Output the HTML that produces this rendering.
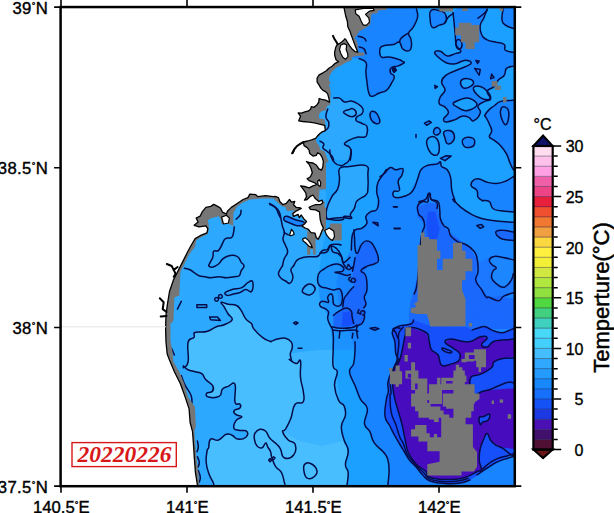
<!DOCTYPE html>
<html><head><meta charset="utf-8"><title>SST 20220226</title>
<style>html,body{margin:0;padding:0;background:#fff;overflow:hidden}svg{display:block}</style>
</head><body>
<svg width="614" height="513" viewBox="0 0 614 513">
<rect width="614" height="513" fill="#fff"/>
<defs><clipPath id="fr"><rect x="60.6" y="7.05" width="454.2" height="479.15"/></clipPath></defs>
<g clip-path="url(#fr)">
<rect x="60" y="6" width="457" height="482" fill="#1ca0ff"/>
<path d="M150.0 190.0L326.0 190.0L326.0 230.0L322.0 250.0L318.0 280.0L320.0 300.0L328.0 316.0L332.0 338.0L333.0 350.0L340.0 400.0L346.0 486.0L346.0 490.0L150.0 490.0Z" fill="#2ca8ff"/>
<path d="M339.5 168.6L349.3 166.6L365.9 165.6L367.9 175.4L367.9 189.1L365.9 194.9L357.1 200.8L354.2 208.6L350.3 214.5L351.3 218.4L342.5 217.4L331.7 218.4L326.8 218.4L326.8 208.6L331.7 196.9L337.6 189.1L339.5 179.3Z" fill="#2ca8ff"/>
<path d="M320.0 97.1L333.7 98.1L339.5 98.1L344.4 102.0L351.3 101.0L358.1 104.0L363.0 108.9L362.0 113.7L357.1 116.7L356.2 120.6L362.0 123.5L366.9 126.4L366.9 134.3L364.0 137.2L357.1 137.2L349.3 140.1L344.4 144.0L349.3 147.0L351.3 151.9L350.3 160.1L320.0 160.1Z" fill="#2ca8ff"/>
<path d="M183.2 367.7L188.1 361.9L188.1 342.3L194.0 337.4L194.9 332.5L206.7 331.6L216.4 326.7L224.3 324.7L232.1 319.8L228.2 314.0L224.3 307.1L221.3 302.2L228.2 304.2L236.0 305.2L240.9 310.1L245.8 318.9L251.6 323.7L253.6 328.6L262.4 337.4L270.0 341.3L271.7 341.1L277.6 339.1L285.4 338.2L291.3 342.1L292.2 347.9L291.3 353.8L300.0 352.0L320.0 350.0L333.2 350.0L333.2 366.4L337.3 371.8L334.5 385.5L338.6 400.4L344.1 405.9L345.4 415.4L341.4 426.4L344.1 440.0L348.2 450.9L345.4 464.5L348.2 472.7L346.8 486.4L213.0 489.9L213.0 482.1L209.1 474.3L206.2 462.5L207.1 450.8L210.6 439.1L218.4 440.1L226.2 434.3L232.1 435.2L237.9 439.1L245.8 437.2L246.7 431.3L239.9 430.4L234.0 428.4L236.0 420.6L241.9 416.7L236.0 414.7L234.0 410.8L239.9 407.9L239.9 404.0L235.0 402.0L235.0 384.4L228.2 386.4L222.3 389.3L219.4 396.2L208.6 397.1L206.7 393.2L212.5 391.3L212.5 385.4L205.7 379.5L201.8 373.7L194.9 371.7L188.1 369.8L183.2 365.9Z" fill="#3cb4ff"/>
<path d="M183.2 367.7L188.1 361.9L188.1 342.3L194.0 337.4L194.9 332.5L206.7 331.6L216.4 326.7L224.3 324.7L232.1 319.8L228.2 314.0L224.3 307.1L221.3 302.2L228.2 304.2L236.0 305.2L240.9 310.1L245.8 318.9L251.6 323.7L253.6 328.6L262.4 337.4L270.0 341.3L271.7 341.1L277.6 339.1L285.4 338.2L291.3 342.1L292.2 347.9L290.3 353.8L291.3 360.1L289.5 359.5L296.4 363.6L300.5 360.9L300.5 377.3L303.2 390.9L303.2 401.8L295.0 404.5L290.9 418.2L285.5 429.1L282.7 431.8L300.0 441.0L322.0 446.0L343.0 441.0L348.2 450.9L345.4 464.5L348.2 472.7L346.8 486.4L213.0 489.9L213.0 482.1L209.1 474.3L206.2 462.5L207.1 450.8L210.6 439.1L218.4 440.1L226.2 434.3L232.1 435.2L237.9 439.1L245.8 437.2L246.7 431.3L239.9 430.4L234.0 428.4L236.0 420.6L241.9 416.7L236.0 414.7L234.0 410.8L239.9 407.9L239.9 404.0L235.0 402.0L235.0 384.4L228.2 386.4L222.3 389.3L219.4 396.2L208.6 397.1L206.7 393.2L212.5 391.3L212.5 385.4L205.7 379.5L201.8 373.7L194.9 371.7L188.1 369.8L183.2 365.9Z" fill="#48beff"/>
<path d="M386.0 5.0L416.5 5.0L417.6 17.0L413.0 27.0L408.5 33.0L410.8 39.0L411.5 45.6L409.0 50.6L402.8 49.0L399.4 42.2L393.7 44.5L384.6 45.6L380.0 47.0L379.7 53.0L381.6 57.7L389.0 57.5L398.0 59.3L402.8 61.6L401.7 65.0L396.0 66.0L391.4 70.7L393.7 77.5L390.3 86.6L384.6 91.2L378.6 93.5L372.8 96.2L368.9 93.2L366.9 81.5L366.0 71.7L366.0 62.5L359.0 58.6L350.0 58.0L350.0 5.0Z" fill="#1884ff"/>
<path d="M431.3 10.3L430.2 19.4L432.4 27.4L439.3 25.1L445.0 22.8L446.1 16.0L441.6 11.4Z" fill="#1884ff"/>
<path d="M453.0 12.5L458.7 6.8L487.2 6.8L483.7 18.2L480.3 25.1L481.5 34.2L487.2 39.9L496.3 42.2L504.3 44.5L505.4 50.2L513.4 52.4L516.8 52.4L516.8 66.1L513.4 66.1L506.5 68.4L504.3 75.2L498.6 79.8L494.0 86.6L487.2 91.2L490.6 99.1L484.9 101.4L478.0 106.0L480.3 112.8L473.5 120.8L468.9 117.4L462.1 116.2L455.2 119.6L446.1 121.9L443.8 118.5L448.4 112.8L445.0 107.1L439.3 103.7L440.4 96.8L445.0 90.0L441.6 82.1L446.1 75.2L455.2 70.7L466.6 66.1L471.2 62.7L464.4 60.4L455.2 63.8L446.1 62.7L438.1 57.0L434.7 52.4L440.4 51.3L447.3 55.9L455.2 53.6L460.9 51.3L456.4 45.6L455.2 34.2L454.1 22.8Z" fill="#1884ff"/>
<path d="M460.9 80.9L467.8 78.7L473.5 82.1L470.1 86.6L463.2 87.8Z" fill="#1ca0ff"/>
<path d="M473.5 87.8L480.3 86.6L487.2 91.2L490.6 98.0L483.7 99.2L476.9 94.6Z" fill="#1ca0ff"/>
<path d="M453.0 103.7L458.7 100.3L466.6 98.0L473.5 100.3L476.9 104.8L471.2 109.4L464.4 110.5L457.5 107.1Z" fill="#1ca0ff"/>
<path d="M503.1 6.8L502.0 19.4L505.4 25.1L513.4 28.5L516.8 28.5L516.8 6.8Z" fill="#1884ff"/>
<path d="M484.9 115.1L489.4 109.4L494.0 106.0L500.8 101.4L513.4 100.3L516.8 100.3L516.8 169.8L513.4 169.8L510.0 163.0L506.5 153.8L500.8 145.9L494.0 140.2L489.4 136.7L491.7 131.0L489.4 124.2L486.0 117.4Z" fill="#1884ff"/>
<path d="M443.8 132.2L449.5 130.6L454.1 134.5L453.0 141.3L447.3 143.6L445.0 137.9Z" fill="#1884ff"/>
<path d="M463.2 139.0L472.3 137.9L474.6 143.6L471.2 147.0L464.4 146.5Z" fill="#1884ff"/>
<path d="M433.6 131.0L437.0 127.6L440.4 131.0L438.1 134.5L434.7 134.5Z" fill="#1884ff"/>
<path d="M424.5 123.1L429.0 120.8L431.3 122.4L426.7 125.3Z" fill="#1884ff"/>
<path d="M440.4 158.4L446.1 155.7L451.1 156.1L445.0 160.7Z" fill="#1884ff"/>
<path d="M370.4 112.8L374.7 111.8L378.6 116.7L379.6 122.5L375.7 123.5L371.2 119.6Z" fill="#1884ff"/>
<path d="M352.2 236.0L355.2 230.1L362.0 228.2L366.9 223.3L365.9 216.4L370.8 211.6L376.7 209.6L378.6 200.8L376.7 192.0L377.7 183.2L382.5 175.4L386.4 169.5L391.3 167.6L395.2 169.5L400.1 167.6L404.0 169.5L401.1 176.4L398.2 183.2L399.1 189.1L393.3 191.0L394.3 196.9L402.1 196.9L409.9 194.9L411.9 188.1L415.8 181.3L419.7 173.5L423.6 167.6L431.4 163.7L440.0 160.7L441.6 166.4L447.3 169.8L450.7 177.8L451.8 190.3L455.2 201.7L453.0 199.4L460.9 207.4L471.2 214.2L482.6 218.8L496.3 221.0L513.4 222.2L516.8 222.2L520.0 490.0L388.0 490.0L387.7 483.6L389.1 470.0L387.7 459.1L383.6 452.3L374.1 442.7L370.0 431.8L364.5 423.6L367.3 408.6L360.4 399.1L355.0 385.5L349.5 371.8L353.6 363.6L355.0 350.0L350.0 335.0L344.0 320.0L338.0 300.0L336.0 282.0L340.0 268.0L351.0 250.0Z" fill="#1884ff"/>
<path d="M516.8 175.5L513.4 176.6L505.4 181.2L496.3 183.5L487.2 182.3L479.2 178.9L473.5 180.1L471.2 185.8L476.9 190.3L478.0 197.2L482.6 200.6L482.6 200.5L489.4 201.7L492.9 208.5L500.8 210.8L513.4 211.9L516.8 211.9Z" fill="#1884ff"/>
<path d="M418.6 205.9L428.0 202.9L436.7 203.5L439.7 217.6L445.5 229.3L457.3 238.1L469.0 246.9L476.3 258.6L479.3 276.2L483.7 290.9L492.4 299.7L504.2 301.1L518.8 296.7L518.8 329.0L410.4 329.0L408.9 317.3L410.4 302.6L414.8 288.0L417.7 273.3L418.6 252.8L423.6 235.2L425.0 223.5L417.7 217.6L416.8 210.3Z" fill="#1a68fc"/>
<path d="M428.0 211.7L435.3 211.7L439.7 229.3L436.7 241.0L428.0 238.1L426.5 223.5Z" fill="#1650fa"/>
<path d="M328.0 265.0L340.0 261.0L351.0 256.0L340.0 268.0L336.0 282.0L338.0 300.0L344.0 320.0L350.0 335.0L355.0 350.0L333.0 350.0L332.0 338.0L328.0 316.0L320.0 300.0L318.0 280.0L322.0 268.0Z" fill="#1c92ff"/>
<path d="M283.7 218.2L286.9 216.3L294.8 219.5L302.6 221.5L304.5 223.5L301.3 225.4L296.1 225.4L289.5 222.8L285.0 220.8Z" fill="#1884ff"/>
<path d="M355.0 257.8L357.3 253.0L362.1 243.8L369.1 241.5L374.9 248.5L378.5 259.9L374.9 263.6L367.9 265.9L363.4 271.8L365.1 274.5L366.8 281.1L366.8 290.8L364.3 297.3L366.0 303.9L363.8 307.9L364.3 318.5L361.9 323.4L357.0 326.7L348.9 327.5L340.7 327.5L333.4 326.7L333.4 315.3L339.1 311.2L342.7 307.1L343.2 303.9L344.0 299.0L347.2 294.1L350.5 290.0L353.7 286.8L352.4 276.2L353.4 267.1Z" fill="#1a68fc"/>
<path d="M342.7 312.3L351.3 311.5L353.4 323.4L348.9 326.3L341.9 326.3Z" fill="#1650fa"/>
<path d="M496.3 231.3L503.1 230.2L513.4 232.0L516.8 232.0L516.8 240.4L513.4 240.4L503.1 239.3L497.4 235.9Z" fill="#1a68fc"/>
<path d="M475.8 280.0L481.5 289.4L489.1 297.3L498.7 300.7L504.2 295.9L518.0 292.0L518.0 262.0L500.0 258.0L489.0 257.0L480.0 262.0L476.0 268.0Z" fill="#1c78ff"/>
<path d="M489.4 259.8L494.0 256.4L503.1 257.5L513.4 259.8L516.8 259.8L516.8 273.5L513.4 273.5L511.1 280.3L504.3 287.2L496.3 283.7L491.7 278.0L492.9 271.2L496.3 267.8L491.7 264.4Z" fill="#1c86ff"/>
<path d="M413.5 320.0L411.9 323.3L406.2 324.9L398.0 326.5L392.3 332.2L394.8 341.2L395.6 352.6L397.2 359.1L394.0 367.2L388.3 380.3L388.3 391.7L386.6 398.2L385.0 416.2L389.9 426.0L394.8 435.7L400.5 445.5L404.5 452.0L409.4 460.1L415.9 466.7L422.5 474.8L430.0 481.0L445.0 483.5L460.0 483.0L470.0 480.0L481.0 473.0L490.0 467.0L500.0 461.0L518.0 452.0L518.0 327.0L508.3 330.8L501.4 332.8L491.9 330.1L485.1 326.7L478.2 328.0L472.1 330.1L466.0 327.0L430.0 326.0Z" fill="#1650fa"/>
<path d="M470.0 300.0L500.0 296.0L518.0 300.0L518.0 318.0L478.0 320.0Z" fill="#1a68fc"/>
<path d="M408.5 327.6L425.6 332.2L429.0 340.2L431.3 349.3L438.1 355.0L441.6 365.2L450.7 364.1L458.7 360.7L459.8 353.8L453.0 348.1L445.0 342.4L450.7 339.0L462.1 341.3L471.2 341.3L480.3 336.7L487.2 337.9L481.5 344.7L487.2 347.0L494.0 341.3L507.7 339.7L518.0 341.3L518.0 356.1L503.1 358.4L494.0 361.8L491.7 367.5L480.3 374.4L471.2 377.1L470.0 386.0L473.5 394.9L487.2 390.3L518.0 388.0L518.0 449.5L500.8 447.3L491.7 441.6L487.2 433.6L483.7 439.3L480.3 448.4L479.2 459.8L481.5 470.1L478.0 471.2L466.6 476.9L455.2 479.2L439.3 479.2L429.0 476.9L425.6 471.2L416.5 464.4L408.5 453.0L405.1 439.3L401.7 423.3L397.1 407.4L393.7 393.7L392.5 380.0L393.7 369.8L399.4 360.7L402.8 347.0L405.1 335.6Z" fill="#460cbe"/>
<path d="M479.2 417.6L483.7 416.5L489.4 414.2L488.3 419.9L482.6 422.2L480.3 424.5Z" fill="#1650fa"/>
<path d="M269.4 203.5C270.8 204.4 273.2 205.1 275.3 207.4C277.4 209.6 277.1 210.9 278.2 213.2C279.3 215.5 279.6 216.2 280.0 217.1" fill="none" stroke="#050c48" stroke-width="1.5" stroke-linejoin="round" stroke-linecap="round"/>
<path d="M241.1 210.3C240.9 211.4 241.3 213.1 240.1 215.2C239.0 217.2 237.1 218.2 236.2 219.1" fill="none" stroke="#050c48" stroke-width="1.5" stroke-linejoin="round" stroke-linecap="round"/>
<path d="M234.3 226.9C234.0 228.5 234.0 231.2 233.3 233.7C232.6 236.3 233.2 236.5 231.3 237.7C229.5 238.8 227.5 237.3 225.5 238.6C223.4 240.0 224.1 240.8 222.5 243.5C220.9 246.2 220.7 248.5 218.6 250.4C216.6 252.2 215.1 249.7 213.7 251.3C212.4 252.9 213.7 254.5 212.8 257.2C211.9 259.9 210.7 261.0 209.8 263.1C208.9 265.1 208.2 265.1 208.9 266.0C209.5 266.9 210.5 267.4 212.8 267.0C215.0 266.5 216.3 265.9 218.6 264.0C220.9 262.2 220.5 261.0 222.5 259.1C224.6 257.3 224.9 257.1 227.4 256.2C229.9 255.3 230.8 255.0 233.3 255.2C235.8 255.5 236.3 255.6 238.2 257.2C240.0 258.8 239.7 260.0 241.1 262.1C242.5 264.1 244.0 263.9 244.0 266.0C244.0 268.0 242.2 268.6 241.1 270.9C240.0 273.2 240.7 274.4 239.1 275.8C237.6 277.1 237.2 276.3 234.3 276.7C231.3 277.2 230.1 277.7 226.4 277.7C222.8 277.7 222.3 276.7 218.6 276.7C215.0 276.7 214.0 277.7 210.8 277.7C207.6 277.7 207.7 277.2 204.9 276.7C202.2 276.3 201.8 276.9 199.1 275.8C196.3 274.6 195.5 273.3 193.2 271.9C190.9 270.4 191.4 270.3 189.3 269.5C187.3 268.7 185.6 268.6 184.4 268.3" fill="none" stroke="#050c48" stroke-width="1.5" stroke-linejoin="round" stroke-linecap="round"/>
<path d="M183.2 367.7C184.4 366.3 187.0 367.8 188.1 361.9C189.2 355.9 186.7 348.0 188.1 342.3C189.5 336.6 192.4 339.7 194.0 337.4C195.6 335.1 192.0 333.9 194.9 332.5C197.9 331.2 201.7 332.9 206.7 331.6C211.7 330.2 212.3 328.3 216.4 326.7C220.5 325.1 220.6 326.3 224.3 324.7C227.9 323.1 231.2 322.3 232.1 319.8C233.0 317.3 230.0 316.9 228.2 314.0C226.3 311.0 225.9 309.9 224.3 307.1C222.7 304.4 220.4 302.9 221.3 302.2C222.2 301.6 224.8 303.5 228.2 304.2C231.6 304.9 233.0 303.8 236.0 305.2C239.0 306.5 238.6 306.9 240.9 310.1C243.2 313.3 243.3 315.7 245.8 318.9C248.3 322.0 249.8 321.5 251.6 323.7C253.4 326.0 251.1 325.4 253.6 328.6C256.1 331.8 258.5 334.5 262.4 337.4C266.2 340.4 267.8 340.5 270.0 341.3C272.2 342.2 270.0 341.6 271.7 341.1C273.5 340.6 274.4 339.8 277.6 339.1C280.8 338.5 282.2 337.5 285.4 338.2C288.6 338.9 289.7 339.8 291.3 342.1C292.9 344.4 292.5 345.2 292.2 347.9C292.0 350.7 290.5 351.0 290.3 353.8C290.1 356.6 291.4 358.7 291.3 360.1C291.1 361.4 288.4 358.7 289.5 359.5C290.7 360.4 293.8 363.3 296.4 363.6C298.9 364.0 299.5 357.7 300.5 360.9C301.4 364.1 299.8 370.3 300.5 377.3C301.1 384.3 302.5 385.2 303.2 390.9C303.8 396.6 305.1 398.6 303.2 401.8C301.3 405.0 297.9 400.7 295.0 404.5C292.1 408.4 293.1 412.4 290.9 418.2C288.7 423.9 287.4 425.9 285.5 429.1C283.5 432.3 282.1 429.3 282.7 431.8C283.4 434.4 285.3 437.1 288.2 440.0C291.0 442.9 293.7 440.6 295.0 444.1C296.3 447.6 296.2 451.8 293.6 455.0C291.1 458.2 287.2 459.1 284.1 457.7C281.0 456.3 282.2 452.1 280.4 448.9C278.6 445.6 279.0 446.5 276.5 444.0C274.0 441.5 272.2 441.1 269.7 438.1C267.2 435.1 268.0 433.3 265.8 431.3C263.5 429.2 262.4 428.9 259.9 429.3C257.4 429.8 256.3 430.9 255.0 433.2C253.7 435.5 254.0 436.1 254.4 439.1C254.9 442.0 255.2 443.9 257.0 445.9C258.7 448.0 259.8 448.6 261.9 447.9C263.9 447.2 264.4 443.2 265.8 443.0C267.1 442.8 266.6 444.9 267.7 446.9C268.9 449.0 269.7 449.5 270.6 451.8C271.6 454.1 270.5 453.3 271.6 456.7C272.8 460.1 273.3 462.8 275.5 466.4C277.8 470.1 279.3 468.7 281.4 472.3C283.4 476.0 283.4 478.9 284.3 482.1C285.2 485.3 285.1 485.1 285.3 486.0" fill="none" stroke="#050c48" stroke-width="1.5" stroke-linejoin="round" stroke-linecap="round"/>
<path d="M196.9 304.8L206.7 304.8L206.7 307.5L196.9 307.5Z" fill="none" stroke="#050c48" stroke-width="1.5" stroke-linejoin="round" stroke-linecap="round"/>
<path d="M209.6 316.9L217.4 316.9L220.4 320.4L210.6 319.8Z" fill="none" stroke="#050c48" stroke-width="1.5" stroke-linejoin="round" stroke-linecap="round"/>
<path d="M214.7 299.3C214.7 298.7 214.9 298.4 215.3 297.9C215.7 297.5 215.9 297.4 216.4 297.4C217.0 297.4 217.4 297.5 217.8 297.9C218.3 298.4 218.4 298.7 218.4 299.3C218.4 300.0 218.3 300.2 217.8 300.7C217.4 301.1 217.0 301.3 216.4 301.3C215.9 301.3 215.7 301.1 215.3 300.7C214.9 300.2 214.7 300.0 214.7 299.3Z" fill="none" stroke="#050c48" stroke-width="1.5" stroke-linejoin="round" stroke-linecap="round"/>
<path d="M218.6 296.4C218.6 295.7 218.8 295.5 219.2 295.0C219.6 294.6 219.8 294.4 220.4 294.4C220.9 294.4 221.3 294.6 221.7 295.0C222.2 295.5 222.3 295.7 222.3 296.4C222.3 297.0 222.2 297.3 221.7 297.8C221.3 298.2 220.9 298.3 220.4 298.3C219.8 298.3 219.6 298.2 219.2 297.8C218.8 297.3 218.6 297.0 218.6 296.4Z" fill="none" stroke="#050c48" stroke-width="1.5" stroke-linejoin="round" stroke-linecap="round"/>
<path d="M225.2 292.5C226.4 291.1 228.2 290.7 232.1 289.5C236.0 288.4 238.2 289.2 241.9 287.6C245.5 286.0 245.2 284.1 247.7 282.7C250.2 281.3 251.7 279.7 252.6 281.7C253.5 283.8 253.2 289.7 251.6 291.5C250.0 293.3 248.5 289.3 245.8 289.5C243.0 289.8 243.1 291.3 239.9 292.5C236.7 293.6 235.0 293.7 232.1 294.4C229.1 295.1 228.8 295.9 227.2 295.4C225.6 294.9 224.1 293.8 225.2 292.5Z" fill="none" stroke="#050c48" stroke-width="1.5" stroke-linejoin="round" stroke-linecap="round"/>
<path d="M181.3 301.3L177.4 309.1" fill="none" stroke="#050c48" stroke-width="1.5" stroke-linejoin="round" stroke-linecap="round"/>
<path d="M171.5 348.2L174.4 355.0" fill="none" stroke="#050c48" stroke-width="1.5" stroke-linejoin="round" stroke-linecap="round"/>
<path d="M183.2 365.9C184.4 366.8 185.4 368.4 188.1 369.8C190.8 371.1 191.8 370.8 194.9 371.7C198.1 372.6 199.3 371.9 201.8 373.7C204.3 375.5 203.2 376.8 205.7 379.5C208.2 382.3 210.9 382.7 212.5 385.4C214.1 388.1 213.9 389.4 212.5 391.3C211.2 393.1 207.6 391.9 206.7 393.2C205.8 394.6 205.7 396.4 208.6 397.1C211.6 397.8 216.2 398.0 219.4 396.2C222.6 394.3 220.3 391.6 222.3 389.3C224.4 387.0 225.2 387.5 228.2 386.4C231.1 385.2 233.4 380.8 235.0 384.4C236.6 388.1 233.9 397.5 235.0 402.0C236.2 406.6 238.8 402.6 239.9 404.0C241.0 405.3 241.3 406.3 239.9 407.9C238.5 409.5 234.9 409.2 234.0 410.8C233.1 412.4 234.2 413.4 236.0 414.7C237.8 416.1 241.9 415.3 241.9 416.7C241.9 418.0 237.8 417.8 236.0 420.6C234.2 423.3 233.1 426.1 234.0 428.4C234.9 430.7 236.9 429.7 239.9 430.4C242.9 431.0 245.4 429.7 246.7 431.3C248.1 432.9 247.8 435.4 245.8 437.2C243.7 439.0 241.1 439.6 237.9 439.1C234.8 438.7 234.8 436.4 232.1 435.2C229.3 434.1 229.4 433.1 226.2 434.3C223.0 435.4 222.0 439.0 218.4 440.1C214.8 441.3 212.9 437.3 210.6 439.1C208.3 441.0 209.4 445.2 208.6 447.9C207.8 450.7 207.7 447.4 207.1 450.8C206.6 454.2 205.7 457.1 206.2 462.5C206.6 468.0 207.5 469.7 209.1 474.3C210.7 478.8 211.9 479.3 213.0 482.1C214.1 484.8 213.7 485.1 214.0 486.0" fill="none" stroke="#050c48" stroke-width="1.5" stroke-linejoin="round" stroke-linecap="round"/>
<path d="M181.3 375.6C182.2 377.9 182.9 380.8 185.2 385.4C187.5 390.0 189.4 391.1 191.0 395.2C192.6 399.3 191.8 401.2 192.0 403.0" fill="none" stroke="#050c48" stroke-width="1.5" stroke-linejoin="round" stroke-linecap="round"/>
<path d="M197.4 441.0C197.6 442.4 198.4 444.4 198.3 446.9C198.2 449.4 197.3 450.6 197.0 451.8" fill="none" stroke="#050c48" stroke-width="1.5" stroke-linejoin="round" stroke-linecap="round"/>
<path d="M197.4 456.7C197.8 458.0 199.2 460.0 199.3 462.5C199.4 465.0 198.1 466.3 197.8 467.4" fill="none" stroke="#050c48" stroke-width="1.5" stroke-linejoin="round" stroke-linecap="round"/>
<path d="M198.3 470.4C198.8 471.9 200.1 474.5 200.3 477.2C200.5 479.9 199.5 480.9 199.3 482.1" fill="none" stroke="#050c48" stroke-width="1.5" stroke-linejoin="round" stroke-linecap="round"/>
<path d="M268.7 460.2L270.1 458.6L271.6 460.2L270.1 461.8Z" fill="none" stroke="#050c48" stroke-width="1.5" stroke-linejoin="round" stroke-linecap="round"/>
<path d="M272.2 458.0L273.6 456.7L275.1 458.0L273.6 459.6Z" fill="none" stroke="#050c48" stroke-width="1.5" stroke-linejoin="round" stroke-linecap="round"/>
<path d="M350.5 274.5C349.5 274.7 348.7 275.5 346.4 275.4C344.1 275.2 343.4 274.5 340.7 273.7C338.1 273.0 334.6 272.7 335.0 272.1C335.4 271.5 340.4 272.4 342.3 271.3C344.2 270.1 344.3 268.9 343.2 267.2C342.0 265.5 340.5 264.3 337.5 264.0C334.4 263.6 333.2 264.4 330.1 265.6C327.1 266.7 327.1 266.9 324.4 268.8C321.8 270.7 320.2 270.5 318.7 273.7C317.2 277.0 317.3 279.6 317.9 282.7C318.5 285.7 318.9 285.4 321.2 286.8C323.5 288.1 324.8 287.6 327.7 288.4C330.5 289.1 330.3 289.6 333.4 290.0C336.4 290.4 338.8 286.8 340.7 290.0C342.6 293.2 343.1 300.4 341.5 303.9C340.0 307.3 336.3 306.6 334.2 304.7C332.1 302.8 333.5 298.2 332.6 295.7C331.6 293.2 331.3 293.7 330.1 294.1C329.0 294.5 328.1 295.4 327.7 297.3C327.3 299.2 329.3 301.3 328.5 302.2C327.7 303.2 326.3 301.4 324.4 301.4C322.5 301.4 321.3 301.1 320.4 302.2C319.4 303.4 319.2 304.8 320.4 306.3C321.5 307.8 323.3 307.4 325.2 308.7C327.1 310.1 327.9 309.7 328.5 312.0C329.1 314.3 327.3 315.5 327.7 318.5C328.1 321.6 329.0 322.4 330.1 325.0C331.3 327.7 331.8 326.9 332.6 329.9C333.3 333.0 333.2 333.4 333.4 338.1C333.5 342.7 333.2 343.4 333.2 350.0C333.1 356.6 332.2 361.3 333.2 366.4C334.1 371.5 336.9 367.4 337.3 371.8C337.6 376.3 334.2 378.8 334.5 385.5C334.9 392.1 336.4 395.7 338.6 400.4C340.9 405.2 342.5 402.4 344.1 405.9C345.7 409.4 346.1 410.7 345.4 415.4C344.8 420.2 341.7 420.6 341.4 426.4C341.0 432.1 342.5 434.3 344.1 440.0C345.7 445.7 347.9 445.2 348.2 450.9C348.5 456.6 345.4 459.4 345.4 464.5C345.4 469.6 347.9 467.6 348.2 472.7C348.5 477.8 347.1 483.2 346.8 486.4" fill="none" stroke="#050c48" stroke-width="1.5" stroke-linejoin="round" stroke-linecap="round"/>
<path d="M355.0 341.8C355.0 343.7 355.3 344.9 355.0 350.0C354.7 355.1 354.9 358.5 353.6 363.6C352.4 368.7 349.2 366.7 349.5 371.8C349.9 376.9 352.4 379.1 355.0 385.5C357.5 391.8 357.6 393.7 360.4 399.1C363.3 404.5 366.3 402.9 367.3 408.6C368.2 414.4 363.9 418.2 364.5 423.6C365.2 429.0 367.8 427.4 370.0 431.8C372.2 436.3 370.9 437.9 374.1 442.7C377.3 447.5 380.4 448.4 383.6 452.3C386.8 456.1 386.4 454.9 387.7 459.1C389.0 463.2 389.1 463.6 389.1 470.0C389.1 476.4 388.0 482.5 387.7 486.4" fill="none" stroke="#050c48" stroke-width="1.5" stroke-linejoin="round" stroke-linecap="round"/>
<path d="M304.5 464.5C305.9 462.6 307.1 461.9 310.0 463.2C312.9 464.4 315.9 466.8 316.8 470.0C317.8 473.2 316.3 474.9 314.1 476.8C311.9 478.7 309.6 479.4 307.3 478.2C304.9 476.9 304.6 474.5 304.0 471.4C303.4 468.2 303.1 466.4 304.5 464.5Z" fill="none" stroke="#050c48" stroke-width="1.5" stroke-linejoin="round" stroke-linecap="round"/>
<path d="M358.2 36.2C359.5 36.6 362.2 37.0 364.0 38.1C365.9 39.2 365.5 40.4 366.0 41.0" fill="none" stroke="#050c48" stroke-width="1.5" stroke-linejoin="round" stroke-linecap="round"/>
<path d="M359.1 46.9C360.3 47.4 362.4 47.3 364.0 48.9C365.6 50.5 365.5 52.6 366.0 53.7" fill="none" stroke="#050c48" stroke-width="1.5" stroke-linejoin="round" stroke-linecap="round"/>
<path d="M393.0 68.8L395.3 68.0L395.7 70.7L393.3 71.5Z" fill="none" stroke="#050c48" stroke-width="1.5" stroke-linejoin="round" stroke-linecap="round"/>
<path d="M333.7 98.1C335.0 98.1 337.0 97.2 339.5 98.1C342.1 99.0 341.7 101.3 344.4 102.0C347.2 102.7 348.1 100.6 351.3 101.0C354.5 101.5 355.4 102.1 358.1 104.0C360.8 105.8 362.1 106.6 363.0 108.9C363.9 111.1 363.4 111.9 362.0 113.7C360.6 115.6 358.5 115.1 357.1 116.7C355.8 118.3 355.0 119.0 356.2 120.6C357.3 122.2 359.5 122.1 362.0 123.5C364.5 124.9 365.8 123.9 366.9 126.4C368.0 129.0 367.6 131.8 366.9 134.3C366.2 136.8 366.3 136.5 364.0 137.2C361.7 137.9 360.6 136.5 357.1 137.2C353.7 137.9 352.3 138.5 349.3 140.1C346.4 141.7 344.4 142.4 344.4 144.0C344.4 145.6 347.7 145.1 349.3 147.0C350.9 148.8 351.0 148.8 351.3 151.9C351.5 154.9 350.5 158.1 350.3 160.1" fill="none" stroke="#050c48" stroke-width="1.5" stroke-linejoin="round" stroke-linecap="round"/>
<path d="M343.5 111.8C343.9 110.6 346.1 110.5 348.3 109.8C350.6 109.1 351.4 107.9 353.2 108.9C355.0 109.8 356.4 111.9 356.2 113.7C355.9 115.6 354.5 116.4 352.2 116.7C350.0 116.9 348.4 115.9 346.4 114.7C344.3 113.6 343.0 112.9 343.5 111.8Z" fill="none" stroke="#050c48" stroke-width="1.5" stroke-linejoin="round" stroke-linecap="round"/>
<path d="M370.4 112.8C371.2 110.9 372.8 110.9 374.7 111.8C376.6 112.7 377.5 114.2 378.6 116.7C379.8 119.2 380.3 120.9 379.6 122.5C378.9 124.1 377.7 124.2 375.7 123.5C373.7 122.8 372.4 122.1 371.2 119.6C370.0 117.1 369.6 114.6 370.4 112.8Z" fill="none" stroke="#050c48" stroke-width="1.5" stroke-linejoin="round" stroke-linecap="round"/>
<path d="M392.7 68.8L394.7 67.8L396.2 70.2L393.9 71.3Z" fill="none" stroke="#050c48" stroke-width="1.5" stroke-linejoin="round" stroke-linecap="round"/>
<path d="M327.8 108.9C327.4 110.7 325.6 113.5 325.9 116.7C326.1 119.9 328.3 119.8 328.8 122.5C329.3 125.3 329.2 126.3 327.8 128.4C326.4 130.5 324.1 130.6 322.9 131.3" fill="none" stroke="#050c48" stroke-width="1.5" stroke-linejoin="round" stroke-linecap="round"/>
<path d="M320.0 141.1C320.9 141.8 323.2 142.4 323.9 144.0C324.6 145.6 322.0 146.1 322.9 147.9C323.8 149.8 325.8 150.0 327.8 151.9C329.9 153.7 330.4 153.8 331.7 155.8C333.1 157.7 333.2 159.1 333.7 160.1" fill="none" stroke="#050c48" stroke-width="1.5" stroke-linejoin="round" stroke-linecap="round"/>
<path d="M416.5 9.1C416.7 11.0 418.4 12.8 417.6 17.1C416.8 21.4 415.2 23.6 413.1 27.4C410.9 31.1 409.0 30.4 408.5 33.1C408.0 35.7 410.1 35.8 410.8 38.8C411.5 41.7 411.8 42.8 411.5 45.6C411.1 48.4 411.2 49.8 409.2 50.6C407.2 51.4 405.1 51.0 402.8 49.0C400.5 47.1 401.5 43.2 399.4 42.2C397.3 41.1 397.1 43.7 393.7 44.5C390.2 45.3 387.6 44.9 384.6 45.6C381.5 46.3 381.6 45.9 380.5 47.5C379.4 49.1 379.4 50.2 379.7 52.5C380.0 54.8 379.6 56.3 381.8 57.3C384.0 58.3 385.3 56.5 389.1 57.0C393.0 57.5 395.0 58.2 398.2 59.3C401.4 60.3 401.4 60.7 402.8 61.6C404.2 62.4 405.1 61.9 404.0 62.9C403.0 63.9 401.1 64.7 398.2 65.9C395.2 67.0 393.2 66.2 391.3 67.8C389.5 69.4 389.7 70.7 390.4 72.7C391.0 74.8 394.0 74.1 394.3 76.6C394.5 79.1 393.2 80.3 391.3 83.5C389.5 86.6 389.4 88.0 386.4 90.3C383.5 92.6 381.8 91.9 378.6 93.2C375.4 94.6 375.0 96.2 372.8 96.2C370.5 96.2 370.2 96.6 368.9 93.2C367.5 89.8 367.6 86.5 366.9 81.5C366.2 76.5 366.1 76.1 365.9 71.7C365.7 67.3 367.6 65.6 366.0 62.5C364.4 59.5 360.7 59.5 359.1 58.6" fill="none" stroke="#050c48" stroke-width="1.5" stroke-linejoin="round" stroke-linecap="round"/>
<path d="M408.5 33.1C406.9 34.1 403.8 35.5 401.7 37.6C399.5 39.7 399.9 41.1 399.4 42.2" fill="none" stroke="#050c48" stroke-width="1.5" stroke-linejoin="round" stroke-linecap="round"/>
<path d="M431.3 10.3C428.6 12.1 429.9 15.4 430.2 19.4C430.4 23.4 430.3 26.0 432.4 27.4C434.6 28.7 436.4 26.1 439.3 25.1C442.2 24.0 443.4 24.9 445.0 22.8C446.6 20.7 446.9 18.6 446.1 16.0C445.3 13.3 445.0 12.7 441.6 11.4C438.1 10.1 434.0 8.4 431.3 10.3Z" fill="none" stroke="#050c48" stroke-width="1.5" stroke-linejoin="round" stroke-linecap="round"/>
<path d="M453.0 12.5C453.2 14.9 453.6 17.7 454.1 22.8C454.6 27.9 454.7 28.9 455.2 34.2C455.8 39.5 455.0 41.6 456.4 45.6C457.7 49.6 461.2 49.4 460.9 51.3C460.7 53.2 458.4 52.5 455.2 53.6C452.0 54.6 450.7 56.4 447.3 55.9C443.8 55.3 443.3 52.1 440.4 51.3C437.5 50.5 435.3 51.1 434.7 52.4C434.2 53.8 435.5 54.6 438.1 57.0C440.8 59.4 442.1 61.1 446.1 62.7C450.1 64.3 451.0 64.4 455.2 63.8C459.5 63.3 460.6 60.7 464.4 60.4C468.1 60.2 470.7 61.4 471.2 62.7C471.7 64.0 470.4 64.3 466.6 66.1C462.9 68.0 460.0 68.6 455.2 70.7C450.5 72.8 449.3 72.6 446.1 75.2C442.9 77.9 441.8 78.6 441.6 82.1C441.3 85.5 445.2 86.6 445.0 90.1C444.7 93.5 441.7 93.7 440.4 96.8C439.1 100.0 438.2 101.3 439.3 103.7C440.3 106.1 442.9 105.0 445.0 107.1C447.1 109.2 448.7 110.1 448.4 112.8C448.1 115.5 444.4 116.4 443.8 118.5C443.3 120.6 443.5 121.7 446.1 121.9C448.8 122.2 451.5 121.0 455.2 119.6C459.0 118.3 458.9 116.8 462.1 116.2C465.3 115.7 466.3 116.3 468.9 117.4C471.6 118.4 470.8 121.8 473.5 120.8C476.1 119.7 479.3 116.3 480.3 112.8C481.4 109.3 477.0 108.6 478.0 106.0C479.1 103.3 482.0 103.0 484.9 101.4C487.8 99.8 490.0 101.5 490.6 99.1C491.1 96.7 486.4 94.1 487.2 91.2C488.0 88.3 491.3 89.3 494.0 86.6C496.7 84.0 496.2 82.5 498.6 79.8C501.0 77.1 502.4 77.9 504.3 75.2C506.1 72.6 504.4 70.5 506.5 68.4C508.7 66.3 511.8 66.7 513.4 66.1" fill="none" stroke="#050c48" stroke-width="1.5" stroke-linejoin="round" stroke-linecap="round"/>
<path d="M487.2 9.1C486.4 11.2 485.3 14.5 483.7 18.2C482.1 22.0 480.9 21.4 480.3 25.1C479.8 28.8 479.9 30.7 481.5 34.2C483.1 37.7 483.7 38.0 487.2 39.9C490.6 41.8 492.3 41.1 496.3 42.2C500.3 43.2 502.1 42.6 504.3 44.5C506.4 46.3 503.3 48.3 505.4 50.2C507.5 52.0 511.5 51.9 513.4 52.4" fill="none" stroke="#050c48" stroke-width="1.5" stroke-linejoin="round" stroke-linecap="round"/>
<path d="M503.1 9.1C502.9 11.5 501.4 15.7 502.0 19.4C502.5 23.1 502.7 23.0 505.4 25.1C508.1 27.2 511.5 27.7 513.4 28.5" fill="none" stroke="#050c48" stroke-width="1.5" stroke-linejoin="round" stroke-linecap="round"/>
<path d="M460.9 80.9C462.0 78.8 464.9 78.4 467.8 78.7C470.7 78.9 472.9 80.2 473.5 82.1C474.0 83.9 472.5 85.3 470.1 86.6C467.7 88.0 465.3 89.1 463.2 87.8C461.1 86.4 459.9 83.1 460.9 80.9Z" fill="none" stroke="#050c48" stroke-width="1.5" stroke-linejoin="round" stroke-linecap="round"/>
<path d="M473.5 87.8C474.3 85.9 477.1 85.8 480.3 86.6C483.5 87.4 484.8 88.5 487.2 91.2C489.6 93.9 491.4 96.2 490.6 98.0C489.8 99.9 486.9 100.0 483.7 99.2C480.5 98.4 479.3 97.3 476.9 94.6C474.5 92.0 472.7 89.6 473.5 87.8Z" fill="none" stroke="#050c48" stroke-width="1.5" stroke-linejoin="round" stroke-linecap="round"/>
<path d="M456.4 41.0C457.2 39.4 458.5 39.1 459.8 39.9C461.1 40.7 462.1 42.3 462.1 44.5C462.1 46.6 461.1 48.5 459.8 49.0C458.5 49.6 457.2 48.6 456.4 46.7C455.6 44.9 455.6 42.6 456.4 41.0Z" fill="none" stroke="#050c48" stroke-width="1.5" stroke-linejoin="round" stroke-linecap="round"/>
<path d="M474.6 68.4L480.3 69.5L479.2 75.2Z" fill="none" stroke="#050c48" stroke-width="1.5" stroke-linejoin="round" stroke-linecap="round"/>
<path d="M491.7 74.1L494.0 77.5L490.6 78.7Z" fill="none" stroke="#050c48" stroke-width="1.5" stroke-linejoin="round" stroke-linecap="round"/>
<path d="M475.8 60.4L479.2 61.1L477.6 63.4Z" fill="none" stroke="#050c48" stroke-width="1.5" stroke-linejoin="round" stroke-linecap="round"/>
<path d="M434.7 85.5L437.5 86.6L435.2 88.5Z" fill="none" stroke="#050c48" stroke-width="1.5" stroke-linejoin="round" stroke-linecap="round"/>
<path d="M392.5 69.5L396.0 70.2L394.1 72.5Z" fill="none" stroke="#050c48" stroke-width="1.5" stroke-linejoin="round" stroke-linecap="round"/>
<path d="M453.0 13.7C451.9 14.5 450.3 15.0 448.4 17.1C446.5 19.2 445.8 21.5 445.0 22.8" fill="none" stroke="#050c48" stroke-width="1.5" stroke-linejoin="round" stroke-linecap="round"/>
<path d="M478.0 18.2C479.4 17.2 481.6 15.5 483.7 13.7C485.9 11.8 486.4 11.1 487.2 10.3" fill="none" stroke="#050c48" stroke-width="1.5" stroke-linejoin="round" stroke-linecap="round"/>
<path d="M453.0 103.7C453.2 102.1 455.5 101.6 458.7 100.3C461.9 98.9 463.2 98.0 466.6 98.0C470.1 98.0 471.1 98.7 473.5 100.3C475.9 101.9 477.4 102.7 476.9 104.8C476.4 106.9 474.1 108.0 471.2 109.4C468.3 110.7 467.6 111.1 464.4 110.5C461.2 110.0 460.2 108.7 457.5 107.1C454.9 105.5 452.7 105.3 453.0 103.7Z" fill="none" stroke="#050c48" stroke-width="1.5" stroke-linejoin="round" stroke-linecap="round"/>
<path d="M513.4 100.3C510.5 100.5 505.4 100.1 500.8 101.4C496.3 102.7 496.7 104.1 494.0 106.0C491.3 107.8 491.6 107.3 489.4 109.4C487.3 111.5 485.7 113.2 484.9 115.1C484.1 116.9 485.0 115.2 486.0 117.4C487.1 119.5 488.1 121.0 489.4 124.2C490.8 127.4 491.7 128.1 491.7 131.0C491.7 134.0 488.9 134.6 489.4 136.7C490.0 138.9 491.3 138.0 494.0 140.2C496.7 142.3 497.9 142.7 500.8 145.9C503.8 149.1 504.4 149.8 506.5 153.8C508.7 157.8 508.4 159.2 510.0 163.0C511.6 166.7 512.6 168.2 513.4 169.8" fill="none" stroke="#050c48" stroke-width="1.5" stroke-linejoin="round" stroke-linecap="round"/>
<path d="M500.8 109.4C501.6 106.5 503.5 106.3 505.4 107.1C507.3 107.9 508.6 108.8 508.8 112.8C509.1 116.8 508.1 122.6 506.5 124.2C504.9 125.8 503.3 123.1 502.0 119.6C500.6 116.2 500.0 112.3 500.8 109.4Z" fill="none" stroke="#050c48" stroke-width="1.5" stroke-linejoin="round" stroke-linecap="round"/>
<path d="M443.8 132.2C444.9 130.5 447.1 130.1 449.5 130.6C451.9 131.1 453.3 132.0 454.1 134.5C454.9 137.0 454.6 139.2 453.0 141.3C451.4 143.4 449.1 144.4 447.3 143.6C445.4 142.8 445.8 140.5 445.0 137.9C444.2 135.2 442.8 133.9 443.8 132.2Z" fill="none" stroke="#050c48" stroke-width="1.5" stroke-linejoin="round" stroke-linecap="round"/>
<path d="M463.2 139.0C465.1 137.0 469.7 136.8 472.3 137.9C475.0 138.9 474.9 141.5 474.6 143.6C474.4 145.7 473.6 146.3 471.2 147.0C468.8 147.7 466.2 148.4 464.4 146.5C462.5 144.7 461.4 141.0 463.2 139.0Z" fill="none" stroke="#050c48" stroke-width="1.5" stroke-linejoin="round" stroke-linecap="round"/>
<path d="M433.6 131.0C434.1 129.4 435.4 127.6 437.0 127.6C438.6 127.6 440.2 129.4 440.4 131.0C440.7 132.6 439.5 133.7 438.1 134.5C436.8 135.3 435.8 135.3 434.7 134.5C433.7 133.7 433.0 132.6 433.6 131.0Z" fill="none" stroke="#050c48" stroke-width="1.5" stroke-linejoin="round" stroke-linecap="round"/>
<path d="M424.5 123.1L429.0 120.8L431.3 122.4L426.7 125.3Z" fill="none" stroke="#050c48" stroke-width="1.5" stroke-linejoin="round" stroke-linecap="round"/>
<path d="M440.4 158.4L446.1 155.7L451.1 156.1L445.0 160.7Z" fill="none" stroke="#050c48" stroke-width="1.5" stroke-linejoin="round" stroke-linecap="round"/>
<path d="M426.7 141.3C427.3 138.1 428.9 137.3 431.3 136.7C433.7 136.2 435.1 136.6 437.0 139.0C438.9 141.4 439.0 143.5 439.3 147.0C439.5 150.5 439.5 152.0 438.1 153.8C436.8 155.7 435.7 155.8 433.6 155.0C431.5 154.2 430.6 153.6 429.0 150.4C427.4 147.2 426.2 144.5 426.7 141.3Z" fill="none" stroke="#050c48" stroke-width="1.5" stroke-linejoin="round" stroke-linecap="round"/>
<path d="M380.0 176.6C381.1 175.8 382.2 175.3 384.6 173.2C387.0 171.1 387.6 168.3 390.3 167.5C392.9 166.7 393.0 169.5 396.0 169.8C398.9 170.1 401.5 167.3 402.8 168.7C404.1 170.0 402.7 172.6 401.7 175.5C400.6 178.4 398.8 177.7 398.2 181.2C397.7 184.7 400.4 187.9 399.4 190.3C398.3 192.7 394.7 189.9 393.7 191.5C392.6 193.1 392.2 196.1 394.8 197.2C397.5 198.2 400.8 197.6 405.1 196.0C409.3 194.4 410.1 194.3 413.1 190.3C416.0 186.3 415.8 183.7 417.6 178.9C419.5 174.1 418.6 173.0 421.0 169.8C423.4 166.6 424.2 166.6 427.9 165.2C431.6 163.9 434.1 164.9 437.0 164.1C439.9 163.3 439.4 161.3 440.4 161.8C441.5 162.4 440.0 164.5 441.6 166.4C443.2 168.2 445.1 167.1 447.3 169.8C449.4 172.5 449.6 173.0 450.7 177.8C451.7 182.6 450.8 184.7 451.8 190.3C452.9 195.9 455.0 199.6 455.2 201.7C455.5 203.8 451.6 198.1 453.0 199.4C454.3 200.7 456.7 203.9 460.9 207.4C465.2 210.8 466.1 211.5 471.2 214.2C476.3 216.9 476.7 217.2 482.6 218.8C488.5 220.4 489.1 220.2 496.3 221.0C503.5 221.8 509.4 221.9 513.4 222.2" fill="none" stroke="#050c48" stroke-width="1.5" stroke-linejoin="round" stroke-linecap="round"/>
<path d="M513.4 176.6C511.5 177.7 509.4 179.6 505.4 181.2C501.4 182.8 500.5 183.2 496.3 183.5C492.0 183.7 491.1 183.4 487.2 182.3C483.2 181.3 482.4 179.5 479.2 178.9C476.0 178.4 475.3 178.5 473.5 180.1C471.6 181.7 470.4 183.4 471.2 185.8C472.0 188.2 475.3 187.7 476.9 190.3C478.5 193.0 476.7 194.8 478.0 197.2C479.4 199.6 481.5 199.8 482.6 200.6C483.7 201.4 481.0 200.3 482.6 200.5C484.2 200.8 487.0 199.8 489.4 201.7C491.8 203.5 490.2 206.4 492.9 208.5C495.5 210.6 496.1 210.0 500.8 210.8C505.6 211.6 510.5 211.7 513.4 211.9" fill="none" stroke="#050c48" stroke-width="1.5" stroke-linejoin="round" stroke-linecap="round"/>
<path d="M418.8 201.7C420.4 201.2 423.2 201.3 425.6 199.4C428.0 197.6 427.7 193.7 429.0 193.7C430.3 193.7 429.4 197.3 431.3 199.4C433.2 201.6 435.7 200.7 437.0 202.9C438.3 205.0 437.0 207.2 437.0 208.6" fill="none" stroke="#050c48" stroke-width="1.5" stroke-linejoin="round" stroke-linecap="round"/>
<path d="M416.0 134.5L416.0 137.4" fill="none" stroke="#050c48" stroke-width="1.5" stroke-linejoin="round" stroke-linecap="round"/>
<path d="M351.3 250.1C351.5 246.8 351.3 240.6 352.2 236.0C353.2 231.3 352.9 231.9 355.2 230.1C357.5 228.3 359.3 229.8 362.0 228.2C364.8 226.6 366.0 226.0 366.9 223.3C367.8 220.5 365.0 219.2 365.9 216.4C366.8 213.7 368.3 213.2 370.8 211.6C373.3 210.0 374.8 212.1 376.7 209.6C378.5 207.1 378.6 204.9 378.6 200.8C378.6 196.7 376.9 196.1 376.7 192.0C376.4 187.9 376.3 187.1 377.7 183.2C379.0 179.3 380.5 178.6 382.5 175.4C384.6 172.2 386.0 170.1 386.4 169.5C386.9 169.0 385.0 172.4 384.6 173.2" fill="none" stroke="#050c48" stroke-width="1.5" stroke-linejoin="round" stroke-linecap="round"/>
<path d="M339.5 168.6C341.8 165.6 343.2 167.3 349.3 166.6C355.5 165.9 361.6 163.6 365.9 165.6C370.3 167.7 367.4 169.9 367.9 175.4C368.3 180.9 368.3 184.5 367.9 189.1C367.4 193.6 368.4 192.2 365.9 194.9C363.4 197.7 359.9 197.6 357.1 200.8C354.4 204.0 355.8 205.4 354.2 208.6C352.6 211.8 351.0 212.2 350.3 214.5C349.6 216.8 353.1 217.7 351.3 218.4C349.4 219.1 347.0 217.4 342.5 217.4C337.9 217.4 335.4 218.2 331.7 218.4C328.1 218.6 328.0 220.7 326.8 218.4C325.7 216.1 325.7 213.6 326.8 208.6C328.0 203.6 329.2 201.5 331.7 196.9C334.2 192.3 335.8 193.2 337.6 189.1C339.4 185.0 339.1 184.1 339.5 179.3C340.0 174.5 337.3 171.5 339.5 168.6Z" fill="none" stroke="#050c48" stroke-width="1.5" stroke-linejoin="round" stroke-linecap="round"/>
<path d="M329.8 150.0C330.0 151.4 329.6 152.9 330.7 155.9C331.9 158.8 332.4 160.4 334.7 162.7C336.9 165.0 338.0 165.4 340.5 165.6C343.0 165.9 343.4 165.0 345.4 163.7C347.5 162.3 347.9 163.0 349.3 159.8C350.7 156.6 350.8 152.3 351.3 150.0" fill="none" stroke="#050c48" stroke-width="1.5" stroke-linejoin="round" stroke-linecap="round"/>
<path d="M393.3 206.7L397.2 206.7" fill="none" stroke="#050c48" stroke-width="1.5" stroke-linejoin="round" stroke-linecap="round"/>
<path d="M394.3 228.8L400.1 228.8" fill="none" stroke="#050c48" stroke-width="1.5" stroke-linejoin="round" stroke-linecap="round"/>
<path d="M372.8 222.3L377.7 222.7L378.2 225.8Z" fill="none" stroke="#050c48" stroke-width="1.5" stroke-linejoin="round" stroke-linecap="round"/>
<path d="M414.2 294.0C415.0 290.8 416.0 293.1 417.6 280.3C419.2 267.6 419.4 252.0 421.0 239.3C422.6 226.5 424.2 230.7 424.5 225.6C424.7 220.5 423.5 220.3 422.2 217.6C420.8 215.0 419.8 216.9 418.8 214.2C417.7 211.5 416.8 209.1 417.6 206.2C418.4 203.3 419.8 202.7 422.2 201.7C424.6 200.6 426.5 203.3 427.9 201.7C429.2 200.1 427.3 196.7 427.9 194.8C428.4 193.0 429.4 192.6 430.2 193.7C431.0 194.7 429.4 197.5 431.3 199.4C433.2 201.2 436.2 199.3 438.1 201.7C440.1 204.1 439.2 205.6 439.7 209.6C440.3 213.6 439.5 215.0 440.4 218.8C441.4 222.5 442.0 223.2 443.8 225.6C445.7 228.0 446.8 226.6 448.4 229.0C450.0 231.4 448.6 232.9 450.7 235.9C452.8 238.8 453.8 239.4 457.5 241.6C461.2 243.7 462.9 242.9 466.6 245.0C470.4 247.1 471.1 247.8 473.5 250.7C475.9 253.6 475.8 252.7 476.9 257.5C478.0 262.3 478.3 265.9 478.0 271.2C477.8 276.5 475.0 276.1 475.8 280.3C476.6 284.6 479.1 285.6 481.5 289.4C483.9 293.3 484.2 295.1 486.0 297.0C487.8 298.8 486.1 296.4 489.1 297.3C492.1 298.2 495.2 301.0 498.7 300.7C502.2 300.4 499.9 297.9 504.2 295.9C508.5 293.9 514.0 292.9 517.0 292.0" fill="none" stroke="#050c48" stroke-width="1.5" stroke-linejoin="round" stroke-linecap="round"/>
<path d="M496.3 231.3C497.6 230.0 499.1 230.0 503.1 230.2C507.1 230.3 510.2 231.6 513.4 232.0C516.6 232.4 516.0 230.0 516.8 232.0C517.6 234.0 517.6 238.5 516.8 240.4C516.0 242.4 516.6 240.7 513.4 240.4C510.2 240.2 506.8 240.3 503.1 239.3C499.4 238.2 499.0 237.7 497.4 235.9C495.8 234.0 494.9 232.6 496.3 231.3Z" fill="none" stroke="#050c48" stroke-width="1.5" stroke-linejoin="round" stroke-linecap="round"/>
<path d="M513.4 259.8C511.0 259.3 507.6 258.3 503.1 257.5C498.6 256.7 497.2 255.8 494.0 256.4C490.8 256.9 490.0 257.9 489.4 259.8C488.9 261.7 490.1 262.5 491.7 264.4C493.3 266.2 496.0 266.2 496.3 267.8C496.5 269.4 493.9 268.8 492.9 271.2C491.8 273.6 490.9 275.1 491.7 278.0C492.5 281.0 493.4 281.6 496.3 283.7C499.2 285.9 500.8 288.0 504.3 287.2C507.7 286.4 509.0 283.5 511.1 280.3C513.2 277.1 512.8 275.1 513.4 273.5" fill="none" stroke="#050c48" stroke-width="1.5" stroke-linejoin="round" stroke-linecap="round"/>
<path d="M476.9 225.6L481.5 224.5L483.7 226.7L480.3 228.3Z" fill="none" stroke="#050c48" stroke-width="1.5" stroke-linejoin="round" stroke-linecap="round"/>
<path d="M394.1 206.9L397.1 206.9" fill="none" stroke="#050c48" stroke-width="1.5" stroke-linejoin="round" stroke-linecap="round"/>
<path d="M394.1 228.3L400.1 228.3" fill="none" stroke="#050c48" stroke-width="1.5" stroke-linejoin="round" stroke-linecap="round"/>
<path d="M270.0 204.6C271.2 205.2 273.1 205.5 275.2 207.2C277.3 208.8 277.8 208.8 279.1 211.7C280.5 214.6 280.3 216.2 281.1 219.5C281.8 222.9 281.6 223.0 282.4 226.1C283.1 229.1 284.2 229.5 284.3 232.6C284.5 235.6 282.7 236.0 283.0 239.1C283.3 242.1 284.6 242.6 285.6 245.6C286.7 248.6 287.9 249.1 287.6 252.1C287.3 255.2 285.5 255.4 284.3 258.6C283.1 261.9 282.8 264.3 282.4 266.1" fill="none" stroke="#050c48" stroke-width="1.5" stroke-linejoin="round" stroke-linecap="round"/>
<path d="M284.3 232.6L288.2 234.9" fill="none" stroke="#050c48" stroke-width="1.5" stroke-linejoin="round" stroke-linecap="round"/>
<path d="M283.7 218.2C284.1 217.2 284.4 216.0 286.9 216.3C289.5 216.6 291.1 218.3 294.8 219.5C298.4 220.8 300.3 220.6 302.6 221.5C304.9 222.4 304.8 222.5 304.5 223.5C304.2 224.4 303.2 225.0 301.3 225.4C299.3 225.9 298.8 226.0 296.1 225.4C293.3 224.8 292.1 223.9 289.5 222.8C287.0 221.7 286.4 221.9 285.0 220.8C283.6 219.8 283.2 219.3 283.7 218.2Z" fill="none" stroke="#050c48" stroke-width="1.5" stroke-linejoin="round" stroke-linecap="round"/>
<path d="M293.5 266.1C294.4 264.6 294.9 262.0 297.4 259.9C299.8 257.9 300.5 258.1 303.9 257.3C307.2 256.6 308.3 257.0 311.7 256.7C315.0 256.4 315.8 257.4 318.2 256.0C320.6 254.7 320.0 252.3 322.1 250.8C324.2 249.3 325.4 250.9 327.3 249.5C329.3 248.1 328.2 246.2 330.6 245.0C333.0 243.7 335.3 244.3 337.8 244.3C340.2 244.3 340.2 244.8 341.0 245.0" fill="none" stroke="#050c48" stroke-width="1.5" stroke-linejoin="round" stroke-linecap="round"/>
<path d="M331.2 245.6C331.5 247.0 331.0 249.6 332.5 251.5C334.1 253.3 335.6 252.1 337.8 253.4C339.9 254.8 340.3 255.2 341.7 257.3C343.0 259.5 341.7 262.5 343.6 262.5C345.6 262.5 348.5 258.5 350.0 257.3" fill="none" stroke="#050c48" stroke-width="1.5" stroke-linejoin="round" stroke-linecap="round"/>
<path d="M327.3 218.9C329.2 219.2 331.5 220.0 335.1 220.2C338.8 220.3 340.8 220.5 343.0 219.5C345.1 218.6 342.6 216.9 344.3 216.3C345.9 215.7 348.7 216.8 350.0 216.9" fill="none" stroke="#050c48" stroke-width="1.5" stroke-linejoin="round" stroke-linecap="round"/>
<path d="M302.4 290.0C303.4 287.9 305.5 285.3 308.1 284.3C310.8 283.4 312.3 284.4 313.8 285.9C315.4 287.5 315.6 288.7 314.7 290.8C313.7 292.9 312.2 294.3 309.8 294.9C307.3 295.5 305.8 294.4 304.1 293.3C302.4 292.1 301.5 292.1 302.4 290.0Z" fill="none" stroke="#050c48" stroke-width="1.5" stroke-linejoin="round" stroke-linecap="round"/>
<path d="M353.9 229.7C354.1 231.9 354.3 234.7 354.6 239.0C354.9 243.4 354.4 245.1 355.1 248.4C355.7 251.7 355.8 254.2 357.4 253.1C359.1 252.0 359.4 246.4 362.1 243.7C364.8 241.0 366.1 240.3 369.1 241.4C372.1 242.5 372.8 244.0 375.0 248.4C377.2 252.8 378.5 256.5 378.5 260.1C378.5 263.6 377.4 262.2 375.0 263.6C372.5 265.0 371.2 264.3 368.0 265.9C364.7 267.5 361.7 268.5 361.1 270.5C360.4 272.5 363.8 272.1 365.1 274.5C366.5 277.0 366.4 277.3 366.8 281.1C367.2 284.9 367.3 287.0 366.8 290.8C366.2 294.6 364.5 294.3 364.3 297.3C364.1 300.4 366.1 301.4 366.0 303.9C365.8 306.3 364.3 307.0 363.8 307.9" fill="none" stroke="#050c48" stroke-width="1.5" stroke-linejoin="round" stroke-linecap="round"/>
<path d="M364.3 314.4C364.3 315.4 364.9 316.4 364.3 318.5C363.8 320.6 363.6 321.5 361.9 323.4C360.2 325.3 358.1 324.4 357.0 326.7C355.9 328.9 356.8 330.5 357.0 333.2C357.2 335.8 357.6 336.9 357.8 338.1" fill="none" stroke="#050c48" stroke-width="1.5" stroke-linejoin="round" stroke-linecap="round"/>
<path d="M355.0 257.8C354.7 259.9 354.0 263.9 353.4 267.1C352.8 270.2 352.7 270.3 352.4 271.3" fill="none" stroke="#050c48" stroke-width="1.5" stroke-linejoin="round" stroke-linecap="round"/>
<path d="M353.7 286.8C353.0 287.5 352.0 288.3 350.5 290.0C349.0 291.7 348.8 292.0 347.2 294.1C345.7 296.2 344.9 296.7 344.0 299.0C343.0 301.3 343.5 302.0 343.2 303.9C342.9 305.8 342.8 306.4 342.7 307.1" fill="none" stroke="#050c48" stroke-width="1.5" stroke-linejoin="round" stroke-linecap="round"/>
<path d="M333.4 315.3C334.7 314.3 336.0 312.9 339.1 311.2C342.1 309.5 343.6 307.9 346.4 307.9C349.3 307.9 350.0 309.1 351.3 311.2C352.6 313.3 351.5 314.0 352.1 316.9C352.7 319.7 353.4 321.9 353.7 323.4" fill="none" stroke="#050c48" stroke-width="1.5" stroke-linejoin="round" stroke-linecap="round"/>
<path d="M331.8 326.7C333.8 327.0 336.0 328.1 340.7 328.3C345.5 328.5 348.3 328.2 352.1 327.5C355.9 326.7 355.9 325.6 357.0 325.0" fill="none" stroke="#050c48" stroke-width="1.5" stroke-linejoin="round" stroke-linecap="round"/>
<path d="M332.6 329.9C334.9 330.1 337.4 330.7 342.3 330.7C347.3 330.7 350.1 329.7 353.7 329.9C357.4 330.1 356.9 331.2 357.8 331.5" fill="none" stroke="#050c48" stroke-width="1.5" stroke-linejoin="round" stroke-linecap="round"/>
<path d="M339.9 331.5L339.1 338.1" fill="none" stroke="#050c48" stroke-width="1.5" stroke-linejoin="round" stroke-linecap="round"/>
<path d="M352.9 333.2L352.1 338.1" fill="none" stroke="#050c48" stroke-width="1.5" stroke-linejoin="round" stroke-linecap="round"/>
<path d="M370.0 328.3L374.9 327.5L379.0 328.6L374.9 330.2Z" fill="none" stroke="#050c48" stroke-width="1.5" stroke-linejoin="round" stroke-linecap="round"/>
<path d="M392.8 329.1C393.6 328.7 394.4 327.7 396.1 327.5C397.8 327.3 399.1 328.1 400.0 328.3" fill="none" stroke="#050c48" stroke-width="1.5" stroke-linejoin="round" stroke-linecap="round"/>
<path d="M393.6 329.9C394.2 330.7 395.1 331.3 396.1 333.2C397.0 335.1 397.3 336.9 397.7 338.1" fill="none" stroke="#050c48" stroke-width="1.5" stroke-linejoin="round" stroke-linecap="round"/>
<path d="M320.0 253.1C321.6 252.8 324.6 253.5 327.0 251.9C329.5 250.3 328.3 246.9 330.5 246.1C332.7 245.2 333.9 246.2 336.4 248.4C338.8 250.6 339.4 251.9 341.1 255.4C342.7 259.0 341.8 260.3 343.4 263.6C345.0 266.9 345.9 268.6 348.1 269.4C350.3 270.3 351.7 267.7 352.7 267.1" fill="none" stroke="#050c48" stroke-width="1.5" stroke-linejoin="round" stroke-linecap="round"/>
<path d="M282.5 265.9C281.8 267.0 280.5 268.7 279.5 270.7C278.6 272.8 278.1 272.8 278.6 274.7C279.0 276.5 279.7 277.0 281.5 278.6C283.3 280.2 284.6 280.4 286.4 281.5C288.2 282.6 287.9 283.7 289.3 283.5C290.7 283.2 291.4 282.3 292.2 280.5C293.1 278.7 293.2 278.1 292.8 275.6C292.5 273.1 290.7 272.1 290.9 269.8C291.1 267.5 293.0 266.8 293.6 265.9" fill="none" stroke="#050c48" stroke-width="1.5" stroke-linejoin="round" stroke-linecap="round"/>
<path d="M293.6 322.9L295.6 321.8L298.1 322.9L295.6 324.5Z" fill="none" stroke="#050c48" stroke-width="1.5" stroke-linejoin="round" stroke-linecap="round"/>
<path d="M298.1 348.3L302.0 348.3" fill="none" stroke="#050c48" stroke-width="1.5" stroke-linejoin="round" stroke-linecap="round"/>
<path d="M479.2 417.6C480.0 415.8 481.3 417.3 483.7 416.5C486.1 415.7 488.4 413.4 489.4 414.2C490.5 415.0 489.9 418.0 488.3 419.9C486.7 421.8 484.5 421.1 482.6 422.2C480.7 423.2 481.1 425.5 480.3 424.5C479.5 423.4 478.4 419.5 479.2 417.6Z" fill="none" stroke="#050c48" stroke-width="1.5" stroke-linejoin="round" stroke-linecap="round"/>
<path d="M480.3 471.2C481.9 469.7 483.4 467.6 487.2 464.8C490.9 462.0 491.5 461.2 496.3 459.1C501.1 457.0 503.2 457.1 507.7 455.7C512.2 454.3 513.8 453.6 515.7 453.0" fill="none" stroke="#050c48" stroke-width="1.5" stroke-linejoin="round" stroke-linecap="round"/>
<path d="M476.9 474.8C479.3 473.3 482.4 471.0 487.2 468.0C491.9 465.0 492.6 464.1 497.4 461.9C502.2 459.6 503.4 459.6 507.7 458.2C511.9 456.8 513.8 456.5 515.7 455.9" fill="none" stroke="#050c48" stroke-width="1.5" stroke-linejoin="round" stroke-linecap="round"/>
<path d="M472.1 330.1C473.5 329.6 475.2 328.8 478.2 328.0C481.2 327.2 481.9 326.2 485.1 326.7C488.3 327.2 488.1 328.7 491.9 330.1C495.7 331.5 497.6 332.6 501.4 332.8C505.2 333.0 504.9 332.0 508.3 330.8C511.7 329.6 514.2 328.3 516.0 327.5" fill="none" stroke="#050c48" stroke-width="1.5" stroke-linejoin="round" stroke-linecap="round"/>
<path d="M442.3 348.0C443.0 347.7 443.5 348.2 445.6 349.0C447.7 349.8 450.3 350.4 451.4 351.3C452.4 352.2 451.5 352.9 450.1 353.0C448.7 353.1 447.3 352.5 445.6 351.8C443.9 351.1 443.6 351.0 442.8 350.1C442.0 349.2 441.6 348.3 442.3 348.0Z" fill="none" stroke="#050c48" stroke-width="1.5" stroke-linejoin="round" stroke-linecap="round"/>
<path d="M408.5 327.6C413.3 326.8 420.8 329.3 425.6 332.2C430.4 335.1 427.7 336.2 429.0 340.2C430.3 344.2 429.2 345.8 431.3 349.3C433.4 352.8 435.7 351.3 438.1 355.0C440.5 358.7 438.7 363.1 441.6 365.2C444.5 367.3 446.7 365.2 450.7 364.1C454.7 363.1 456.6 363.1 458.7 360.7C460.8 358.3 461.1 356.7 459.8 353.8C458.5 350.9 456.5 350.8 453.0 348.1C449.5 345.4 445.5 344.5 445.0 342.4C444.5 340.3 446.7 339.3 450.7 339.0C454.7 338.7 457.3 340.8 462.1 341.3C466.9 341.8 467.0 342.4 471.2 341.3C475.4 340.2 476.6 337.5 480.3 336.7C484.0 335.9 486.9 336.0 487.2 337.9C487.5 339.8 481.5 342.6 481.5 344.7C481.5 346.8 484.3 347.8 487.2 347.0C490.1 346.2 489.2 343.0 494.0 341.3C498.8 339.6 502.1 339.7 507.7 339.7C513.3 339.7 515.6 337.5 518.0 341.3C520.4 345.1 521.5 352.1 518.0 356.1C514.5 360.1 508.7 357.1 503.1 358.4C497.5 359.7 496.7 359.7 494.0 361.8C491.3 363.9 494.9 364.6 491.7 367.5C488.5 370.4 485.1 372.2 480.3 374.4C475.5 376.6 473.6 374.4 471.2 377.1C468.8 379.8 469.5 381.8 470.0 386.0C470.5 390.2 469.5 393.9 473.5 394.9C477.5 395.9 476.8 391.9 487.2 390.3C497.6 388.7 510.8 374.2 518.0 388.0C525.2 401.8 522.0 435.7 518.0 449.5C514.0 463.3 506.9 449.1 500.8 447.3C494.7 445.5 494.9 444.8 491.7 441.6C488.5 438.4 489.1 434.1 487.2 433.6C485.3 433.1 485.3 435.8 483.7 439.3C482.1 442.8 481.4 443.6 480.3 448.4C479.2 453.2 478.9 454.7 479.2 459.8C479.5 464.9 481.8 467.4 481.5 470.1C481.2 472.8 481.5 469.6 478.0 471.2C474.5 472.8 471.9 475.0 466.6 476.9C461.3 478.8 461.6 478.7 455.2 479.2C448.8 479.7 445.4 479.7 439.3 479.2C433.2 478.7 432.2 478.8 429.0 476.9C425.8 475.0 428.5 474.1 425.6 471.2C422.7 468.3 420.5 468.6 416.5 464.4C412.5 460.2 411.2 458.9 408.5 453.0C405.8 447.1 406.7 446.2 405.1 439.3C403.5 432.4 403.6 430.7 401.7 423.3C399.8 415.9 399.0 414.3 397.1 407.4C395.2 400.5 394.8 400.1 393.7 393.7C392.6 387.3 392.5 385.6 392.5 380.0C392.5 374.4 392.1 374.3 393.7 369.8C395.3 365.3 397.3 366.0 399.4 360.7C401.5 355.4 401.5 352.9 402.8 347.0C404.1 341.1 403.8 340.1 405.1 335.6C406.4 331.1 403.7 328.4 408.5 327.6Z" fill="none" stroke="#050c48" stroke-width="1.5" stroke-linejoin="round" stroke-linecap="round"/>
<path d="M413.5 320.0C413.1 320.8 413.6 322.2 411.9 323.3C410.2 324.4 409.4 324.2 406.2 324.9C403.0 325.6 401.2 324.8 398.0 326.5C394.8 328.2 393.0 328.8 392.3 332.2C391.6 335.6 394.0 336.4 394.8 341.2C395.6 346.0 395.0 348.4 395.6 352.6C396.2 356.8 397.6 355.7 397.2 359.1C396.8 362.5 396.1 362.3 394.0 367.2C391.9 372.1 389.6 374.6 388.3 380.3C387.0 386.0 388.7 387.5 388.3 391.7C387.9 395.9 387.4 392.5 386.6 398.2C385.8 403.9 384.2 409.7 385.0 416.2C385.8 422.7 387.6 421.4 389.9 426.0C392.2 430.6 392.3 431.1 394.8 435.7C397.3 440.2 398.2 441.7 400.5 445.5C402.8 449.3 402.4 448.6 404.5 452.0C406.6 455.4 406.7 456.7 409.4 460.1C412.1 463.5 412.8 463.3 415.9 466.7C419.0 470.1 419.2 471.5 422.5 474.8C425.8 478.1 424.8 479.0 430.0 481.0C435.2 483.0 438.0 483.0 445.0 483.5C452.0 484.0 454.2 483.8 460.0 483.0C465.8 482.2 467.7 480.7 470.0 480.0" fill="none" stroke="#050c48" stroke-width="1.5" stroke-linejoin="round" stroke-linecap="round"/>
<path d="M403.2 327.1C402.2 328.6 399.7 329.9 398.7 333.9C397.7 337.9 399.1 338.8 398.8 344.1C398.5 349.4 397.6 353.0 397.5 356.6C397.4 360.3 399.2 357.1 398.3 359.9C397.4 362.7 395.7 363.8 393.9 368.5C392.0 373.2 391.1 374.5 390.4 380.1C389.7 385.8 391.1 389.0 391.0 392.7C390.9 396.4 390.1 391.5 390.1 395.9C390.2 400.4 389.7 405.1 391.1 411.8C392.4 418.5 393.7 418.7 395.8 424.6C397.9 430.6 398.3 433.4 400.0 437.5C401.6 441.6 401.3 438.9 402.8 442.4C404.3 445.9 405.1 449.2 406.5 452.5C407.9 455.8 406.7 453.5 408.9 456.6C411.2 459.6 412.7 461.7 416.2 465.5C419.7 469.4 420.9 469.9 424.1 473.0C427.2 476.1 425.3 477.0 429.5 478.9C433.7 480.9 435.6 480.8 442.1 481.4C448.7 481.9 451.5 481.8 457.6 481.1C463.7 480.4 465.8 479.1 468.3 478.4" fill="none" stroke="#050c48" stroke-width="1.5" stroke-linejoin="round" stroke-linecap="round"/>
<g font-family="Liberation Sans, sans-serif" font-size="11" fill="#050c48" stroke="#050c48" stroke-width="0.6" text-anchor="middle">
<text transform="translate(355.5 281.5) rotate(-65)">6</text><text transform="translate(352.5 268) rotate(-65)" font-size="8">7</text><text transform="translate(365 313.5) rotate(-70)">5</text></g>
<path d="M421.0 232.4L424.5 232.4L424.5 237.0L429.0 237.0L429.0 239.3L437.0 239.3L437.0 250.7L440.4 250.7L440.4 258.7L437.0 258.7L437.0 270.0L442.7 270.0L442.7 258.7L453.0 258.7L453.0 242.7L462.0 242.7L462.0 250.7L465.5 250.7L465.5 258.7L472.3 258.7L472.3 271.2L465.5 271.2L465.5 280.3L462.0 280.3L462.0 290.0L465.5 299.1L465.5 326.3L430.2 326.5L429.0 320.8L426.7 313.9L416.5 313.9L410.8 312.8L410.8 308.2L416.5 307.1L414.2 303.7L417.6 301.4L417.6 245.0L421.0 245.0Z M468.9 323.0L472.0 323.0L472.0 326.5L468.9 326.5Z M458.7 22.8L471.2 22.8L471.2 25.1L479.2 25.1L479.2 42.2L474.6 42.2L474.6 49.0L465.5 49.0L465.5 42.2L460.9 42.2L460.9 35.3L455.2 35.3L455.2 27.4L458.7 27.4Z M491.7 80.9L497.4 80.9L497.4 86.6L491.7 86.6Z M495.1 85.5L500.8 85.5L500.8 90.1L495.1 90.1Z M503.1 96.9L506.5 96.9L506.5 102.6L503.1 102.6Z M439.3 6.8L453.0 6.8L453.0 11.4L439.3 11.4Z M462.1 8.2L467.8 8.2L467.8 10.9L462.1 10.9Z M499.7 8.2L503.1 8.2L503.1 10.9L499.7 10.9Z M329.9 223.5L341.7 223.5L341.7 240.4L329.9 240.4Z M307.1 231.3L315.6 231.3L315.6 254.7L313.0 254.7L313.0 248.9L310.4 248.9L310.4 254.7L307.1 254.7Z M321.5 207.8L326.0 207.8L326.0 230.6L321.5 230.6Z M405.4 327.3L411.1 327.3L411.1 336.3L405.4 336.3Z M407.8 342.8L411.1 342.8L411.1 348.5L407.8 348.5Z M404.5 355.0L407.8 355.0L407.8 361.5L404.5 361.5Z M411.1 362.3L415.1 362.3L415.1 370.5L411.1 370.5Z M389.9 371.3L402.1 371.3L402.1 384.3L389.9 384.3Z M395.6 365.6L399.7 365.6L399.7 371.3L395.6 371.3Z M389.1 368.0L392.3 368.0L392.3 371.3L389.1 371.3Z M395.6 384.3L398.8 384.3L398.8 386.8L395.6 386.8Z M405.4 370.5L418.4 370.5L418.4 378.6L405.4 378.6Z M411.1 378.6L427.3 378.6L427.3 390.0L411.1 390.0Z M415.1 390.0L427.3 390.0L427.3 403.9L415.1 403.9Z M411.1 396.5L415.9 396.5L415.9 403.9L411.1 403.9Z M429.0 384.3L442.0 384.3L442.0 403.9L429.0 403.9Z M437.1 377.8L440.4 377.8L440.4 385.1L437.1 385.1Z M441.2 377.8L453.4 377.8L453.4 385.1L441.2 385.1Z M442.0 385.1L453.4 385.1L453.4 390.0L442.0 390.0Z M453.4 370.5L464.8 370.5L464.8 403.9L453.4 403.9Z M455.8 364.8L459.1 364.8L459.1 370.5L455.8 370.5Z M464.8 352.6L473.8 352.6L473.8 361.5L464.8 361.5Z M473.8 349.3L486.0 349.3L486.0 360.7L473.8 360.7Z M461.5 359.1L466.4 359.1L466.4 362.3L461.5 362.3Z M476.2 360.7L486.0 360.7L486.0 367.2L476.2 367.2Z M464.8 384.3L474.6 384.3L474.6 403.9L464.8 403.9Z M459.1 367.2L462.4 367.2L462.4 371.3L459.1 371.3Z M478.6 367.2L481.1 367.2L481.1 372.1L478.6 372.1Z M463.2 375.4L466.4 375.4L466.4 381.9L463.2 381.9Z M411.1 393.4L441.2 393.4L441.2 402.3L431.4 402.3L431.4 399.9L426.5 399.9L426.5 403.1L430.6 403.1L430.6 406.4L440.4 406.4L440.4 410.5L443.6 410.5L443.6 414.5L449.3 414.5L449.3 417.8L438.7 417.8L438.7 421.9L433.9 421.9L433.9 419.4L429.0 419.4L429.0 417.8L418.4 417.8L418.4 411.3L415.1 411.3L415.1 406.4L411.1 406.4Z M415.1 425.1L426.5 425.1L426.5 433.3L429.8 433.3L429.8 437.3L433.9 437.3L433.9 434.1L437.1 434.1L437.1 437.3L441.2 437.3L441.2 451.2L427.3 451.2L427.3 441.4L418.4 441.4L418.4 436.5L411.1 436.5L411.1 429.2L415.1 429.2Z M441.2 417.8L465.6 417.8L465.6 424.3L472.9 424.3L472.9 447.1L477.0 452.0L477.0 466.7L473.8 471.5L461.5 471.5L461.5 475.6L427.3 475.6L427.3 464.2L439.6 461.8L439.6 450.4L441.2 450.4Z M442.8 393.4L479.5 393.4L479.5 399.1L473.8 403.1L473.8 411.3L471.3 411.3L471.3 417.8L453.4 417.8L453.4 408.8L446.1 408.8L446.1 406.4L442.8 406.4Z M491.7 400.5L494.0 400.5L494.0 403.9L491.7 403.9Z M499.7 399.4L503.1 399.4L503.1 402.8L499.7 402.8Z M507.7 414.2L511.1 414.2L511.1 418.8L507.7 418.8Z" fill="#767676"/>
<path d="M407.8 373.7L411.1 373.7L411.1 377.8L407.8 377.8Z" fill="#460cbe"/>
<path d="M446.1 381.1L452.6 381.1L452.6 383.5L446.1 383.5Z" fill="#460cbe"/>
<path d="M468.9 355.0L474.6 355.0L474.6 359.1L468.9 359.1Z" fill="#460cbe"/>
<path d="M415.1 383.5L417.6 383.5L417.6 389.2L415.1 389.2Z" fill="#460cbe"/>
<rect x="378" y="6" width="8.5" height="4" fill="#767676"/>
<path d="M386.5 5.0L386.4 9.8L378.6 10.4L377.3 13.0L371.5 14.3L370.2 24.8L365.6 28.0L359.1 31.3L357.8 33.9L354.5 37.8L356.5 40.4L357.8 44.3L357.8 52.1L364.3 52.8L364.3 55.4L357.8 56.0L352.6 56.7L351.3 60.6L346.1 62.5L339.9 66.3L337.3 66.9L332.1 71.5L329.5 76.1L328.9 80.6L330.8 82.6L328.9 85.2L330.2 89.1L330.8 93.0L330.2 101.5L330.2 104.7L326.9 106.0L326.3 109.9L321.7 111.2L319.1 113.8L318.9 118.2L324.7 119.5L325.4 125.4L326.0 130.6L322.1 132.6L318.2 136.5L315.9 139.1L316.9 143.0L318.9 145.0L320.2 149.5L324.7 151.5L326.7 157.3L328.6 161.2L326.0 163.0L326.0 189.1L319.5 189.7L318.9 199.5L324.7 201.5L324.7 216.1L326.0 207.8L326.0 230.0L322.8 231.3L320.8 236.5L318.5 240.4L315.6 239.1L314.3 234.1L310.4 233.6L307.8 230.2L304.1 228.7L301.0 226.1L303.2 224.1L305.4 221.5L303.2 219.5L301.3 215.9L299.3 218.5L297.6 215.4L292.8 217.2L291.5 213.0L294.8 210.4L286.9 211.1L286.9 205.2L286.9 211.2L285.6 207.3L281.7 206.0L279.1 204.1L276.5 201.5L273.3 198.6L261.6 198.6L249.9 199.5L243.1 202.5L237.2 206.4L233.3 213.2L233.3 225.9L229.4 224.0L221.6 224.0L220.6 219.1L218.6 216.2L211.8 218.1L207.9 220.1L208.9 226.9L207.9 233.7L202.0 236.7L196.2 240.6L195.2 246.4L189.3 254.3L184.4 264.0L180.5 271.9L179.3 295.4L174.4 297.4L173.5 320.8L170.5 323.7L170.5 340.4L172.5 352.1L173.5 361.9L179.3 371.7L184.2 383.5L188.1 397.1L194.9 406.9L195.9 426.4L194.4 431.3L195.4 444.9L196.4 458.6L198.3 472.3L199.3 485.0L199.7 489.9L199.0 490.0L58.0 490.0L58.0 4.0Z" fill="#767676"/>
<path d="M344.3 5.0L344.1 7.8L344.8 11.7L345.8 16.3L347.4 21.5L347.8 26.7L349.7 30.6L351.3 35.2L353.2 40.4L354.9 45.0L356.7 49.5L357.8 52.1L354.9 51.6L352.3 49.3L349.7 45.9L347.4 42.3L345.8 39.5L344.8 38.8L343.7 40.1L342.1 41.7L339.5 43.6L337.6 44.3L335.9 46.9L334.6 52.1L334.7 55.2L336.0 59.8L338.6 61.7L334.7 63.7L332.1 66.3L328.9 68.2L326.3 70.8L323.0 72.8L319.1 74.8L317.1 78.0L317.1 81.9L319.1 85.2L321.0 88.4L323.0 90.4L325.6 91.7L327.6 93.6L328.5 96.9L329.3 100.2L329.5 102.1L325.6 100.2L321.7 99.3L319.1 98.5L318.8 102.1L317.1 104.7L314.1 107.3L311.3 106.7L310.6 109.3L308.0 111.2L304.8 111.9L301.5 113.2L298.2 112.9L300.6 116.3L298.7 120.8L302.6 121.5L309.1 122.1L314.3 122.8L319.5 124.1L324.7 125.4L325.4 130.6L322.1 131.9L320.2 133.2L317.6 135.8L315.6 138.4L312.3 139.7L307.8 141.0L303.2 142.0L304.1 145.6L307.1 147.6L309.1 150.2L309.7 153.4L313.0 156.0L316.3 155.4L317.6 152.8L320.2 154.1L322.1 157.3L323.4 161.2L322.8 166.9L321.5 170.2L318.9 168.9L316.3 165.0L313.0 163.0L309.1 162.4L306.5 161.5L309.1 164.3L311.0 168.2L312.3 172.8L310.4 176.7L307.1 178.7L309.1 180.6L314.3 182.6L316.9 184.5L313.0 185.8L309.1 187.8L304.5 186.5L300.6 185.8L303.2 189.1L305.8 193.0L306.5 196.9L304.5 200.2L307.1 199.5L310.4 196.3L313.0 195.0L315.0 198.2L318.9 201.5L322.1 200.2L322.8 202.8L320.2 204.7L315.6 204.7L311.7 206.0L309.1 207.3L310.4 209.3L315.6 209.9L319.5 211.9L320.2 219.5L321.5 224.1L323.4 228.0L322.1 230.6L320.2 235.2L318.2 239.1L316.3 237.8L315.0 233.2L311.0 232.6L308.4 229.3L305.2 228.0L301.9 226.1L304.5 224.1L306.5 221.5L303.9 218.9L301.3 215.0L299.3 217.6L298.0 214.3L293.5 216.3L292.8 213.7L296.1 211.1L301.3 208.5L300.6 208.0L296.1 207.3L293.5 204.7L294.8 201.5L291.5 202.1L289.5 199.5L286.3 203.4L283.0 204.7L279.8 201.5L278.5 197.6L275.2 196.3L273.3 196.6L265.5 195.6L257.7 196.6L255.8 194.7L249.9 194.1L247.9 197.6L243.1 199.5L237.2 203.5L231.3 207.4L227.4 211.3L226.4 214.2L222.5 212.2L220.6 208.3L217.7 206.4L213.7 204.4L210.8 206.4L205.9 207.4L202.0 212.2L200.1 216.2L196.2 218.1L198.1 222.0L194.2 225.3L199.1 226.9L205.9 225.9L207.9 228.9L206.9 232.8L200.1 235.7L195.2 238.6L192.2 243.5L187.4 252.3L182.5 262.1L178.6 269.9L173.5 279.8L169.5 291.5L167.6 303.2L166.0 314.9L165.6 328.6L166.0 342.3L167.2 354.0L169.5 360.0L174.4 371.7L180.3 383.5L185.2 397.1L189.1 408.9L190.1 422.5L192.5 431.3L193.5 444.9L194.4 458.6L195.4 472.3L197.4 485.0L197.8 489.9L198.0 490.0L58.0 490.0L58.0 4.0Z" fill="#fff"/>
<path d="M344.3 5.0L344.1 7.8L344.8 11.7L345.8 16.3L347.4 21.5L347.8 26.7L349.7 30.6L351.3 35.2L353.2 40.4L354.9 45.0L356.7 49.5L357.8 52.1L354.9 51.6L352.3 49.3L349.7 45.9L347.4 42.3L345.8 39.5L344.8 38.8L343.7 40.1L342.1 41.7L339.5 43.6L337.6 44.3L335.9 46.9L334.6 52.1L334.7 55.2L336.0 59.8L338.6 61.7L334.7 63.7L332.1 66.3L328.9 68.2L326.3 70.8L323.0 72.8L319.1 74.8L317.1 78.0L317.1 81.9L319.1 85.2L321.0 88.4L323.0 90.4L325.6 91.7L327.6 93.6L328.5 96.9L329.3 100.2L329.5 102.1L325.6 100.2L321.7 99.3L319.1 98.5L318.8 102.1L317.1 104.7L314.1 107.3L311.3 106.7L310.6 109.3L308.0 111.2L304.8 111.9L301.5 113.2L298.2 112.9L300.6 116.3L298.7 120.8L302.6 121.5L309.1 122.1L314.3 122.8L319.5 124.1L324.7 125.4L325.4 130.6L322.1 131.9L320.2 133.2L317.6 135.8L315.6 138.4L312.3 139.7L307.8 141.0L303.2 142.0L304.1 145.6L307.1 147.6L309.1 150.2L309.7 153.4L313.0 156.0L316.3 155.4L317.6 152.8L320.2 154.1L322.1 157.3L323.4 161.2L322.8 166.9L321.5 170.2L318.9 168.9L316.3 165.0L313.0 163.0L309.1 162.4L306.5 161.5L309.1 164.3L311.0 168.2L312.3 172.8L310.4 176.7L307.1 178.7L309.1 180.6L314.3 182.6L316.9 184.5L313.0 185.8L309.1 187.8L304.5 186.5L300.6 185.8L303.2 189.1L305.8 193.0L306.5 196.9L304.5 200.2L307.1 199.5L310.4 196.3L313.0 195.0L315.0 198.2L318.9 201.5L322.1 200.2L322.8 202.8L320.2 204.7L315.6 204.7L311.7 206.0L309.1 207.3L310.4 209.3L315.6 209.9L319.5 211.9L320.2 219.5L321.5 224.1L323.4 228.0L322.1 230.6L320.2 235.2L318.2 239.1L316.3 237.8L315.0 233.2L311.0 232.6L308.4 229.3L305.2 228.0L301.9 226.1L304.5 224.1L306.5 221.5L303.9 218.9L301.3 215.0L299.3 217.6L298.0 214.3L293.5 216.3L292.8 213.7L296.1 211.1L301.3 208.5L300.6 208.0L296.1 207.3L293.5 204.7L294.8 201.5L291.5 202.1L289.5 199.5L286.3 203.4L283.0 204.7L279.8 201.5L278.5 197.6L275.2 196.3L273.3 196.6L265.5 195.6L257.7 196.6L255.8 194.7L249.9 194.1L247.9 197.6L243.1 199.5L237.2 203.5L231.3 207.4L227.4 211.3L226.4 214.2L222.5 212.2L220.6 208.3L217.7 206.4L213.7 204.4L210.8 206.4L205.9 207.4L202.0 212.2L200.1 216.2L196.2 218.1L198.1 222.0L194.2 225.3L199.1 226.9L205.9 225.9L207.9 228.9L206.9 232.8L200.1 235.7L195.2 238.6L192.2 243.5L187.4 252.3L182.5 262.1L178.6 269.9L173.5 279.8L169.5 291.5L167.6 303.2L166.0 314.9L165.6 328.6L166.0 342.3L167.2 354.0L169.5 360.0L174.4 371.7L180.3 383.5L185.2 397.1L189.1 408.9L190.1 422.5L192.5 431.3L193.5 444.9L194.4 458.6L195.4 472.3L197.4 485.0L197.8 489.9" fill="none" stroke="#000" stroke-width="1.3" stroke-linejoin="round"/>
<path d="M61 326.8H166" stroke="#e4e4e4" stroke-width="1" fill="none"/>
<path d="M355.2 9.8L365.0 8.1L373.4 8.5L374.1 10.4L369.5 11.1L365.6 14.3L368.9 18.2L369.5 22.1L366.3 25.4L363.0 24.8L361.0 20.8L359.1 16.3L355.8 13.7Z" fill="#fff" stroke="#000" stroke-width="1.2" stroke-linejoin="round"/>
<path d="M340.8 45.0L344.1 43.6L346.7 45.0L346.1 49.5L347.6 53.4L348.0 56.7L345.4 59.3L342.8 57.3L340.8 53.4L339.5 49.5L340.2 46.9Z" fill="#fff" stroke="#000" stroke-width="1.2" stroke-linejoin="round"/>
<path d="M324.7 230.6L329.3 228.0L333.8 231.3L334.5 236.5L332.5 240.4L329.3 238.4L326.7 235.2Z" fill="#fff" stroke="#000" stroke-width="1.2" stroke-linejoin="round"/>
<path d="M289.5 235.2L291.5 229.3L293.5 231.9L294.1 234.5L290.8 235.8Z" fill="#fff" stroke="#000" stroke-width="1.2" stroke-linejoin="round"/>
<path d="M302.6 239.1L305.2 237.8L308.4 240.4L311.0 244.3L312.3 247.6L309.1 246.3L305.8 243.0L303.2 241.0Z" fill="#fff" stroke="#000" stroke-width="1.2" stroke-linejoin="round"/>
<path d="M317.6 181.3L319.3 179.7L320.8 182.6L320.2 186.5L318.2 185.2Z" fill="#fff" stroke="#000" stroke-width="1.2" stroke-linejoin="round"/>
<path d="M221.6 217.1L226.4 215.2L229.4 218.1L228.4 223.0L223.5 224.0Z" fill="#fff" stroke="#000" stroke-width="1.2" stroke-linejoin="round"/>
<path d="M333.0 35.8L334.1 38.4L336.3 41.7L337.6 44.3" fill="none" stroke="#000" stroke-width="2" stroke-linecap="round" stroke-linejoin="round"/>
<path d="M292.8 152.8L294.1 149.5L296.7 146.3L300.6 143.6L303.6 142.0" fill="none" stroke="#000" stroke-width="2" stroke-linecap="round" stroke-linejoin="round"/>
<path d="M166.8 264.0L171.7 266.0L173.7 269.9L177.6 267.0" fill="none" stroke="#000" stroke-width="2" stroke-linecap="round" stroke-linejoin="round"/>
<path d="M173.7 269.9L175.6 273.8L173.7 276.7" fill="none" stroke="#000" stroke-width="2" stroke-linecap="round" stroke-linejoin="round"/>
<path d="M159.8 298.3L163.7 302.2L162.7 309.1L166.6 312.0" fill="none" stroke="#000" stroke-width="2" stroke-linecap="round" stroke-linejoin="round"/>
<path d="M160.7 316.5L166.6 315.9" fill="none" stroke="#000" stroke-width="2" stroke-linecap="round" stroke-linejoin="round"/>
<path d="M292.1 153.3L294.1 150.0" fill="none" stroke="#000" stroke-width="2" stroke-linecap="round" stroke-linejoin="round"/>
</g>
<rect x="60.6" y="7.05" width="454.19999999999993" height="479.15" fill="none" stroke="#000" stroke-width="2.5"/>
<path d="M61.0 486.2V492.7M61.0 7.05V0.04999999999999982M187.0 486.2V492.7M187.0 7.05V0.04999999999999982M313.0 486.2V492.7M313.0 7.05V0.04999999999999982M439.0 486.2V492.7M439.0 7.05V0.04999999999999982M60.6 486.1H54.1M514.8 486.1H521.3M60.6 327.5H54.1M514.8 327.5H521.3M60.6 167.8H54.1M514.8 167.8H521.3M60.6 7.1H54.1M514.8 7.1H521.3" stroke="#000" stroke-width="1.6" fill="none"/>
<g font-family="Liberation Sans, sans-serif" font-size="16.7" fill="#000" stroke="#000" stroke-width="0.4">
<text x="48.1" y="13.6" text-anchor="end" letter-spacing="0.35">39<tspan font-size="9" dy="-5">°</tspan><tspan dy="5">N</tspan></text>
<text x="48.1" y="174.3" text-anchor="end" letter-spacing="0.35">38.5<tspan font-size="9" dy="-5">°</tspan><tspan dy="5">N</tspan></text>
<text x="48.1" y="334.0" text-anchor="end" letter-spacing="0.35">38<tspan font-size="9" dy="-5">°</tspan><tspan dy="5">N</tspan></text>
<text x="48.1" y="492.6" text-anchor="end" letter-spacing="0.35">37.5<tspan font-size="9" dy="-5">°</tspan><tspan dy="5">N</tspan></text>
<text x="61.3" y="512.9" text-anchor="middle">140.5<tspan font-size="9" dy="-5">°</tspan><tspan dy="5">E</tspan></text>
<text x="187.3" y="512.9" text-anchor="middle">141<tspan font-size="9" dy="-5">°</tspan><tspan dy="5">E</tspan></text>
<text x="313.3" y="512.9" text-anchor="middle">141.5<tspan font-size="9" dy="-5">°</tspan><tspan dy="5">E</tspan></text>
<text x="439.3" y="512.9" text-anchor="middle">142<tspan font-size="9" dy="-5">°</tspan><tspan dy="5">E</tspan></text>
</g>
<rect x="72" y="442.6" width="104.3" height="24" fill="#fff" stroke="#d81818" stroke-width="1.4"/>
<text x="124.4" y="462" text-anchor="middle" font-family="Liberation Serif, serif" font-weight="bold" font-style="italic" font-size="23.5" fill="#d81818">20220226</text>
<rect x="533.4" y="439.48" width="19.300000000000068" height="10.42" fill="#501034"/>
<rect x="533.4" y="429.36" width="19.300000000000068" height="10.42" fill="#40106c"/>
<rect x="533.4" y="419.24" width="19.300000000000068" height="10.42" fill="#4a10b4"/>
<rect x="533.4" y="409.12" width="19.300000000000068" height="10.42" fill="#1c38e2"/>
<rect x="533.4" y="399.00" width="19.300000000000068" height="10.42" fill="#1452f6"/>
<rect x="533.4" y="388.88" width="19.300000000000068" height="10.42" fill="#1670fc"/>
<rect x="533.4" y="378.76" width="19.300000000000068" height="10.42" fill="#1888ff"/>
<rect x="533.4" y="368.64" width="19.300000000000068" height="10.42" fill="#249cff"/>
<rect x="533.4" y="358.52" width="19.300000000000068" height="10.42" fill="#30a8ff"/>
<rect x="533.4" y="348.40" width="19.300000000000068" height="10.42" fill="#44beff"/>
<rect x="533.4" y="338.28" width="19.300000000000068" height="10.42" fill="#44d0ff"/>
<rect x="533.4" y="328.16" width="19.300000000000068" height="10.42" fill="#48d8f8"/>
<rect x="533.4" y="318.04" width="19.300000000000068" height="10.42" fill="#40d0c0"/>
<rect x="533.4" y="307.92" width="19.300000000000068" height="10.42" fill="#40d080"/>
<rect x="533.4" y="297.80" width="19.300000000000068" height="10.42" fill="#50d840"/>
<rect x="533.4" y="287.68" width="19.300000000000068" height="10.42" fill="#90e040"/>
<rect x="533.4" y="277.56" width="19.300000000000068" height="10.42" fill="#b0e840"/>
<rect x="533.4" y="267.44" width="19.300000000000068" height="10.42" fill="#d0e840"/>
<rect x="533.4" y="257.32" width="19.300000000000068" height="10.42" fill="#f4f038"/>
<rect x="533.4" y="247.20" width="19.300000000000068" height="10.42" fill="#fff040"/>
<rect x="533.4" y="237.08" width="19.300000000000068" height="10.42" fill="#fcd840"/>
<rect x="533.4" y="226.96" width="19.300000000000068" height="10.42" fill="#f0a040"/>
<rect x="533.4" y="216.84" width="19.300000000000068" height="10.42" fill="#f07830"/>
<rect x="533.4" y="206.72" width="19.300000000000068" height="10.42" fill="#f05030"/>
<rect x="533.4" y="196.60" width="19.300000000000068" height="10.42" fill="#e8203c"/>
<rect x="533.4" y="186.48" width="19.300000000000068" height="10.42" fill="#ec4484"/>
<rect x="533.4" y="176.36" width="19.300000000000068" height="10.42" fill="#f060a8"/>
<rect x="533.4" y="166.24" width="19.300000000000068" height="10.42" fill="#ffa0e4"/>
<rect x="533.4" y="156.12" width="19.300000000000068" height="10.42" fill="#ffc0ec"/>
<rect x="533.4" y="146.00" width="19.300000000000068" height="10.42" fill="#ffdcee"/>
<path d="M533.4 156.12H552.7M533.4 166.24H552.7M533.4 176.36H552.7M533.4 186.48H552.7M533.4 196.60H552.7M533.4 206.72H552.7M533.4 216.84H552.7M533.4 226.96H552.7M533.4 237.08H552.7M533.4 247.20H552.7M533.4 257.32H552.7M533.4 267.44H552.7M533.4 277.56H552.7M533.4 287.68H552.7M533.4 297.80H552.7M533.4 307.92H552.7M533.4 318.04H552.7M533.4 328.16H552.7M533.4 338.28H552.7M533.4 348.40H552.7M533.4 358.52H552.7M533.4 368.64H552.7M533.4 378.76H552.7M533.4 388.88H552.7M533.4 399.00H552.7M533.4 409.12H552.7M533.4 419.24H552.7M533.4 429.36H552.7M533.4 439.48H552.7" stroke="#202040" stroke-width="0.6" opacity="0.75" fill="none"/>
<path d="M533.4 146.0L543.05 135.5L552.7 146.0Z" fill="#101068" stroke="#000" stroke-width="2" stroke-linejoin="miter"/>
<path d="M533.4 449.59999999999997L543.05 458.09999999999997L552.7 449.59999999999997Z" fill="#6a1616" stroke="#000" stroke-width="2" stroke-linejoin="miter"/>
<rect x="533.4" y="146.0" width="19.300000000000068" height="303.59999999999997" fill="none" stroke="#000" stroke-width="2.2"/>
<path d="M553.7 449.60h7.5M553.7 439.48h4M553.7 429.36h4M553.7 419.24h4M553.7 409.12h4M553.7 399.00h7.5M553.7 388.88h4M553.7 378.76h4M553.7 368.64h4M553.7 358.52h4M553.7 348.40h7.5M553.7 338.28h4M553.7 328.16h4M553.7 318.04h4M553.7 307.92h4M553.7 297.80h7.5M553.7 287.68h4M553.7 277.56h4M553.7 267.44h4M553.7 257.32h4M553.7 247.20h7.5M553.7 237.08h4M553.7 226.96h4M553.7 216.84h4M553.7 206.72h4M553.7 196.60h7.5M553.7 186.48h4M553.7 176.36h4M553.7 166.24h4M553.7 156.12h4M553.7 146.00h7.5" stroke="#000" stroke-width="1.5" fill="none"/>
<g font-family="Liberation Sans, sans-serif" font-size="16" fill="#000" stroke="#000" stroke-width="0.35">
<text x="583.5" y="455.9" text-anchor="end">0</text>
<text x="583.5" y="405.3" text-anchor="end">5</text>
<text x="583.5" y="354.7" text-anchor="end">10</text>
<text x="583.5" y="304.1" text-anchor="end">15</text>
<text x="583.5" y="253.5" text-anchor="end">20</text>
<text x="583.5" y="202.9" text-anchor="end">25</text>
<text x="583.5" y="152.3" text-anchor="end">30</text>
<text x="542.5" y="130.4" text-anchor="middle" font-size="16">°C</text>
<text transform="translate(609.4 372.8) rotate(-90)" font-size="22" stroke-width="0.5">Temperture(°C)</text>
</g>
</svg>
</body></html>
